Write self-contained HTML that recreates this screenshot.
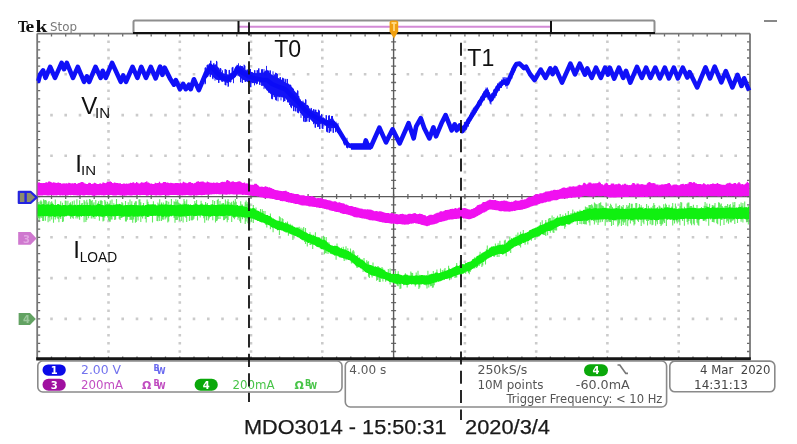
<!DOCTYPE html>
<html><head><meta charset="utf-8"><style>
html,body{margin:0;padding:0;background:#fff;}
body{width:797px;height:444px;overflow:hidden;}
svg{display:block;filter:blur(0.35px);}
.s{font-family:"DejaVu Sans","Liberation Sans",sans-serif;}
.a{font-family:"Liberation Sans",sans-serif;}
</style></head><body>
<svg width="797" height="444" viewBox="0 0 797 444">
<rect width="797" height="444" fill="#fff"/>
<path d="M107.2 40.5h2.6v2.6h-2.6zM107.2 48.6h2.6v2.6h-2.6zM107.2 56.8h2.6v2.6h-2.6zM107.2 64.9h2.6v2.6h-2.6zM107.2 73h2.6v2.6h-2.6zM107.2 81.2h2.6v2.6h-2.6zM107.2 89.4h2.6v2.6h-2.6zM107.2 97.5h2.6v2.6h-2.6zM107.2 105.6h2.6v2.6h-2.6zM107.2 113.8h2.6v2.6h-2.6zM107.2 122h2.6v2.6h-2.6zM107.2 130.1h2.6v2.6h-2.6zM107.2 138.2h2.6v2.6h-2.6zM107.2 146.4h2.6v2.6h-2.6zM107.2 154.5h2.6v2.6h-2.6zM107.2 162.7h2.6v2.6h-2.6zM107.2 170.8h2.6v2.6h-2.6zM107.2 179h2.6v2.6h-2.6zM107.2 187.1h2.6v2.6h-2.6zM107.2 195.3h2.6v2.6h-2.6zM107.2 203.4h2.6v2.6h-2.6zM107.2 211.6h2.6v2.6h-2.6zM107.2 219.7h2.6v2.6h-2.6zM107.2 227.9h2.6v2.6h-2.6zM107.2 236h2.6v2.6h-2.6zM107.2 244.2h2.6v2.6h-2.6zM107.2 252.3h2.6v2.6h-2.6zM107.2 260.5h2.6v2.6h-2.6zM107.2 268.6h2.6v2.6h-2.6zM107.2 276.8h2.6v2.6h-2.6zM107.2 284.9h2.6v2.6h-2.6zM107.2 293.1h2.6v2.6h-2.6zM107.2 301.2h2.6v2.6h-2.6zM107.2 309.4h2.6v2.6h-2.6zM107.2 317.6h2.6v2.6h-2.6zM107.2 325.7h2.6v2.6h-2.6zM107.2 333.9h2.6v2.6h-2.6zM107.2 342h2.6v2.6h-2.6zM107.2 350.2h2.6v2.6h-2.6zM178.5 40.5h2.6v2.6h-2.6zM178.5 48.6h2.6v2.6h-2.6zM178.5 56.8h2.6v2.6h-2.6zM178.5 64.9h2.6v2.6h-2.6zM178.5 73h2.6v2.6h-2.6zM178.5 81.2h2.6v2.6h-2.6zM178.5 89.4h2.6v2.6h-2.6zM178.5 97.5h2.6v2.6h-2.6zM178.5 105.6h2.6v2.6h-2.6zM178.5 113.8h2.6v2.6h-2.6zM178.5 122h2.6v2.6h-2.6zM178.5 130.1h2.6v2.6h-2.6zM178.5 138.2h2.6v2.6h-2.6zM178.5 146.4h2.6v2.6h-2.6zM178.5 154.5h2.6v2.6h-2.6zM178.5 162.7h2.6v2.6h-2.6zM178.5 170.8h2.6v2.6h-2.6zM178.5 179h2.6v2.6h-2.6zM178.5 187.1h2.6v2.6h-2.6zM178.5 195.3h2.6v2.6h-2.6zM178.5 203.4h2.6v2.6h-2.6zM178.5 211.6h2.6v2.6h-2.6zM178.5 219.7h2.6v2.6h-2.6zM178.5 227.9h2.6v2.6h-2.6zM178.5 236h2.6v2.6h-2.6zM178.5 244.2h2.6v2.6h-2.6zM178.5 252.3h2.6v2.6h-2.6zM178.5 260.5h2.6v2.6h-2.6zM178.5 268.6h2.6v2.6h-2.6zM178.5 276.8h2.6v2.6h-2.6zM178.5 284.9h2.6v2.6h-2.6zM178.5 293.1h2.6v2.6h-2.6zM178.5 301.2h2.6v2.6h-2.6zM178.5 309.4h2.6v2.6h-2.6zM178.5 317.6h2.6v2.6h-2.6zM178.5 325.7h2.6v2.6h-2.6zM178.5 333.9h2.6v2.6h-2.6zM178.5 342h2.6v2.6h-2.6zM178.5 350.2h2.6v2.6h-2.6zM249.7 40.5h2.6v2.6h-2.6zM249.7 48.6h2.6v2.6h-2.6zM249.7 56.8h2.6v2.6h-2.6zM249.7 64.9h2.6v2.6h-2.6zM249.7 73h2.6v2.6h-2.6zM249.7 81.2h2.6v2.6h-2.6zM249.7 89.4h2.6v2.6h-2.6zM249.7 97.5h2.6v2.6h-2.6zM249.7 105.6h2.6v2.6h-2.6zM249.7 113.8h2.6v2.6h-2.6zM249.7 122h2.6v2.6h-2.6zM249.7 130.1h2.6v2.6h-2.6zM249.7 138.2h2.6v2.6h-2.6zM249.7 146.4h2.6v2.6h-2.6zM249.7 154.5h2.6v2.6h-2.6zM249.7 162.7h2.6v2.6h-2.6zM249.7 170.8h2.6v2.6h-2.6zM249.7 179h2.6v2.6h-2.6zM249.7 187.1h2.6v2.6h-2.6zM249.7 195.3h2.6v2.6h-2.6zM249.7 203.4h2.6v2.6h-2.6zM249.7 211.6h2.6v2.6h-2.6zM249.7 219.7h2.6v2.6h-2.6zM249.7 227.9h2.6v2.6h-2.6zM249.7 236h2.6v2.6h-2.6zM249.7 244.2h2.6v2.6h-2.6zM249.7 252.3h2.6v2.6h-2.6zM249.7 260.5h2.6v2.6h-2.6zM249.7 268.6h2.6v2.6h-2.6zM249.7 276.8h2.6v2.6h-2.6zM249.7 284.9h2.6v2.6h-2.6zM249.7 293.1h2.6v2.6h-2.6zM249.7 301.2h2.6v2.6h-2.6zM249.7 309.4h2.6v2.6h-2.6zM249.7 317.6h2.6v2.6h-2.6zM249.7 325.7h2.6v2.6h-2.6zM249.7 333.9h2.6v2.6h-2.6zM249.7 342h2.6v2.6h-2.6zM249.7 350.2h2.6v2.6h-2.6zM321 40.5h2.6v2.6h-2.6zM321 48.6h2.6v2.6h-2.6zM321 56.8h2.6v2.6h-2.6zM321 64.9h2.6v2.6h-2.6zM321 73h2.6v2.6h-2.6zM321 81.2h2.6v2.6h-2.6zM321 89.4h2.6v2.6h-2.6zM321 97.5h2.6v2.6h-2.6zM321 105.6h2.6v2.6h-2.6zM321 113.8h2.6v2.6h-2.6zM321 122h2.6v2.6h-2.6zM321 130.1h2.6v2.6h-2.6zM321 138.2h2.6v2.6h-2.6zM321 146.4h2.6v2.6h-2.6zM321 154.5h2.6v2.6h-2.6zM321 162.7h2.6v2.6h-2.6zM321 170.8h2.6v2.6h-2.6zM321 179h2.6v2.6h-2.6zM321 187.1h2.6v2.6h-2.6zM321 195.3h2.6v2.6h-2.6zM321 203.4h2.6v2.6h-2.6zM321 211.6h2.6v2.6h-2.6zM321 219.7h2.6v2.6h-2.6zM321 227.9h2.6v2.6h-2.6zM321 236h2.6v2.6h-2.6zM321 244.2h2.6v2.6h-2.6zM321 252.3h2.6v2.6h-2.6zM321 260.5h2.6v2.6h-2.6zM321 268.6h2.6v2.6h-2.6zM321 276.8h2.6v2.6h-2.6zM321 284.9h2.6v2.6h-2.6zM321 293.1h2.6v2.6h-2.6zM321 301.2h2.6v2.6h-2.6zM321 309.4h2.6v2.6h-2.6zM321 317.6h2.6v2.6h-2.6zM321 325.7h2.6v2.6h-2.6zM321 333.9h2.6v2.6h-2.6zM321 342h2.6v2.6h-2.6zM321 350.2h2.6v2.6h-2.6zM463.6 40.5h2.6v2.6h-2.6zM463.6 48.6h2.6v2.6h-2.6zM463.6 56.8h2.6v2.6h-2.6zM463.6 64.9h2.6v2.6h-2.6zM463.6 73h2.6v2.6h-2.6zM463.6 81.2h2.6v2.6h-2.6zM463.6 89.4h2.6v2.6h-2.6zM463.6 97.5h2.6v2.6h-2.6zM463.6 105.6h2.6v2.6h-2.6zM463.6 113.8h2.6v2.6h-2.6zM463.6 122h2.6v2.6h-2.6zM463.6 130.1h2.6v2.6h-2.6zM463.6 138.2h2.6v2.6h-2.6zM463.6 146.4h2.6v2.6h-2.6zM463.6 154.5h2.6v2.6h-2.6zM463.6 162.7h2.6v2.6h-2.6zM463.6 170.8h2.6v2.6h-2.6zM463.6 179h2.6v2.6h-2.6zM463.6 187.1h2.6v2.6h-2.6zM463.6 195.3h2.6v2.6h-2.6zM463.6 203.4h2.6v2.6h-2.6zM463.6 211.6h2.6v2.6h-2.6zM463.6 219.7h2.6v2.6h-2.6zM463.6 227.9h2.6v2.6h-2.6zM463.6 236h2.6v2.6h-2.6zM463.6 244.2h2.6v2.6h-2.6zM463.6 252.3h2.6v2.6h-2.6zM463.6 260.5h2.6v2.6h-2.6zM463.6 268.6h2.6v2.6h-2.6zM463.6 276.8h2.6v2.6h-2.6zM463.6 284.9h2.6v2.6h-2.6zM463.6 293.1h2.6v2.6h-2.6zM463.6 301.2h2.6v2.6h-2.6zM463.6 309.4h2.6v2.6h-2.6zM463.6 317.6h2.6v2.6h-2.6zM463.6 325.7h2.6v2.6h-2.6zM463.6 333.9h2.6v2.6h-2.6zM463.6 342h2.6v2.6h-2.6zM463.6 350.2h2.6v2.6h-2.6zM534.9 40.5h2.6v2.6h-2.6zM534.9 48.6h2.6v2.6h-2.6zM534.9 56.8h2.6v2.6h-2.6zM534.9 64.9h2.6v2.6h-2.6zM534.9 73h2.6v2.6h-2.6zM534.9 81.2h2.6v2.6h-2.6zM534.9 89.4h2.6v2.6h-2.6zM534.9 97.5h2.6v2.6h-2.6zM534.9 105.6h2.6v2.6h-2.6zM534.9 113.8h2.6v2.6h-2.6zM534.9 122h2.6v2.6h-2.6zM534.9 130.1h2.6v2.6h-2.6zM534.9 138.2h2.6v2.6h-2.6zM534.9 146.4h2.6v2.6h-2.6zM534.9 154.5h2.6v2.6h-2.6zM534.9 162.7h2.6v2.6h-2.6zM534.9 170.8h2.6v2.6h-2.6zM534.9 179h2.6v2.6h-2.6zM534.9 187.1h2.6v2.6h-2.6zM534.9 195.3h2.6v2.6h-2.6zM534.9 203.4h2.6v2.6h-2.6zM534.9 211.6h2.6v2.6h-2.6zM534.9 219.7h2.6v2.6h-2.6zM534.9 227.9h2.6v2.6h-2.6zM534.9 236h2.6v2.6h-2.6zM534.9 244.2h2.6v2.6h-2.6zM534.9 252.3h2.6v2.6h-2.6zM534.9 260.5h2.6v2.6h-2.6zM534.9 268.6h2.6v2.6h-2.6zM534.9 276.8h2.6v2.6h-2.6zM534.9 284.9h2.6v2.6h-2.6zM534.9 293.1h2.6v2.6h-2.6zM534.9 301.2h2.6v2.6h-2.6zM534.9 309.4h2.6v2.6h-2.6zM534.9 317.6h2.6v2.6h-2.6zM534.9 325.7h2.6v2.6h-2.6zM534.9 333.9h2.6v2.6h-2.6zM534.9 342h2.6v2.6h-2.6zM534.9 350.2h2.6v2.6h-2.6zM606.1 40.5h2.6v2.6h-2.6zM606.1 48.6h2.6v2.6h-2.6zM606.1 56.8h2.6v2.6h-2.6zM606.1 64.9h2.6v2.6h-2.6zM606.1 73h2.6v2.6h-2.6zM606.1 81.2h2.6v2.6h-2.6zM606.1 89.4h2.6v2.6h-2.6zM606.1 97.5h2.6v2.6h-2.6zM606.1 105.6h2.6v2.6h-2.6zM606.1 113.8h2.6v2.6h-2.6zM606.1 122h2.6v2.6h-2.6zM606.1 130.1h2.6v2.6h-2.6zM606.1 138.2h2.6v2.6h-2.6zM606.1 146.4h2.6v2.6h-2.6zM606.1 154.5h2.6v2.6h-2.6zM606.1 162.7h2.6v2.6h-2.6zM606.1 170.8h2.6v2.6h-2.6zM606.1 179h2.6v2.6h-2.6zM606.1 187.1h2.6v2.6h-2.6zM606.1 195.3h2.6v2.6h-2.6zM606.1 203.4h2.6v2.6h-2.6zM606.1 211.6h2.6v2.6h-2.6zM606.1 219.7h2.6v2.6h-2.6zM606.1 227.9h2.6v2.6h-2.6zM606.1 236h2.6v2.6h-2.6zM606.1 244.2h2.6v2.6h-2.6zM606.1 252.3h2.6v2.6h-2.6zM606.1 260.5h2.6v2.6h-2.6zM606.1 268.6h2.6v2.6h-2.6zM606.1 276.8h2.6v2.6h-2.6zM606.1 284.9h2.6v2.6h-2.6zM606.1 293.1h2.6v2.6h-2.6zM606.1 301.2h2.6v2.6h-2.6zM606.1 309.4h2.6v2.6h-2.6zM606.1 317.6h2.6v2.6h-2.6zM606.1 325.7h2.6v2.6h-2.6zM606.1 333.9h2.6v2.6h-2.6zM606.1 342h2.6v2.6h-2.6zM606.1 350.2h2.6v2.6h-2.6zM677.4 40.5h2.6v2.6h-2.6zM677.4 48.6h2.6v2.6h-2.6zM677.4 56.8h2.6v2.6h-2.6zM677.4 64.9h2.6v2.6h-2.6zM677.4 73h2.6v2.6h-2.6zM677.4 81.2h2.6v2.6h-2.6zM677.4 89.4h2.6v2.6h-2.6zM677.4 97.5h2.6v2.6h-2.6zM677.4 105.6h2.6v2.6h-2.6zM677.4 113.8h2.6v2.6h-2.6zM677.4 122h2.6v2.6h-2.6zM677.4 130.1h2.6v2.6h-2.6zM677.4 138.2h2.6v2.6h-2.6zM677.4 146.4h2.6v2.6h-2.6zM677.4 154.5h2.6v2.6h-2.6zM677.4 162.7h2.6v2.6h-2.6zM677.4 170.8h2.6v2.6h-2.6zM677.4 179h2.6v2.6h-2.6zM677.4 187.1h2.6v2.6h-2.6zM677.4 195.3h2.6v2.6h-2.6zM677.4 203.4h2.6v2.6h-2.6zM677.4 211.6h2.6v2.6h-2.6zM677.4 219.7h2.6v2.6h-2.6zM677.4 227.9h2.6v2.6h-2.6zM677.4 236h2.6v2.6h-2.6zM677.4 244.2h2.6v2.6h-2.6zM677.4 252.3h2.6v2.6h-2.6zM677.4 260.5h2.6v2.6h-2.6zM677.4 268.6h2.6v2.6h-2.6zM677.4 276.8h2.6v2.6h-2.6zM677.4 284.9h2.6v2.6h-2.6zM677.4 293.1h2.6v2.6h-2.6zM677.4 301.2h2.6v2.6h-2.6zM677.4 309.4h2.6v2.6h-2.6zM677.4 317.6h2.6v2.6h-2.6zM677.4 325.7h2.6v2.6h-2.6zM677.4 333.9h2.6v2.6h-2.6zM677.4 342h2.6v2.6h-2.6zM677.4 350.2h2.6v2.6h-2.6zM50.2 73h2.6v2.6h-2.6zM64.4 73h2.6v2.6h-2.6zM78.7 73h2.6v2.6h-2.6zM92.9 73h2.6v2.6h-2.6zM107.2 73h2.6v2.6h-2.6zM121.4 73h2.6v2.6h-2.6zM135.7 73h2.6v2.6h-2.6zM149.9 73h2.6v2.6h-2.6zM164.2 73h2.6v2.6h-2.6zM178.5 73h2.6v2.6h-2.6zM192.7 73h2.6v2.6h-2.6zM207 73h2.6v2.6h-2.6zM221.2 73h2.6v2.6h-2.6zM235.5 73h2.6v2.6h-2.6zM249.7 73h2.6v2.6h-2.6zM264 73h2.6v2.6h-2.6zM278.3 73h2.6v2.6h-2.6zM292.5 73h2.6v2.6h-2.6zM306.8 73h2.6v2.6h-2.6zM321 73h2.6v2.6h-2.6zM335.3 73h2.6v2.6h-2.6zM349.5 73h2.6v2.6h-2.6zM363.8 73h2.6v2.6h-2.6zM378 73h2.6v2.6h-2.6zM392.3 73h2.6v2.6h-2.6zM406.6 73h2.6v2.6h-2.6zM420.8 73h2.6v2.6h-2.6zM435.1 73h2.6v2.6h-2.6zM449.3 73h2.6v2.6h-2.6zM463.6 73h2.6v2.6h-2.6zM477.8 73h2.6v2.6h-2.6zM492.1 73h2.6v2.6h-2.6zM506.3 73h2.6v2.6h-2.6zM520.6 73h2.6v2.6h-2.6zM534.9 73h2.6v2.6h-2.6zM549.1 73h2.6v2.6h-2.6zM563.4 73h2.6v2.6h-2.6zM577.6 73h2.6v2.6h-2.6zM591.9 73h2.6v2.6h-2.6zM606.1 73h2.6v2.6h-2.6zM620.4 73h2.6v2.6h-2.6zM634.7 73h2.6v2.6h-2.6zM648.9 73h2.6v2.6h-2.6zM663.2 73h2.6v2.6h-2.6zM677.4 73h2.6v2.6h-2.6zM691.7 73h2.6v2.6h-2.6zM705.9 73h2.6v2.6h-2.6zM720.2 73h2.6v2.6h-2.6zM734.4 73h2.6v2.6h-2.6zM50.2 113.8h2.6v2.6h-2.6zM64.4 113.8h2.6v2.6h-2.6zM78.7 113.8h2.6v2.6h-2.6zM92.9 113.8h2.6v2.6h-2.6zM107.2 113.8h2.6v2.6h-2.6zM121.4 113.8h2.6v2.6h-2.6zM135.7 113.8h2.6v2.6h-2.6zM149.9 113.8h2.6v2.6h-2.6zM164.2 113.8h2.6v2.6h-2.6zM178.5 113.8h2.6v2.6h-2.6zM192.7 113.8h2.6v2.6h-2.6zM207 113.8h2.6v2.6h-2.6zM221.2 113.8h2.6v2.6h-2.6zM235.5 113.8h2.6v2.6h-2.6zM249.7 113.8h2.6v2.6h-2.6zM264 113.8h2.6v2.6h-2.6zM278.3 113.8h2.6v2.6h-2.6zM292.5 113.8h2.6v2.6h-2.6zM306.8 113.8h2.6v2.6h-2.6zM321 113.8h2.6v2.6h-2.6zM335.3 113.8h2.6v2.6h-2.6zM349.5 113.8h2.6v2.6h-2.6zM363.8 113.8h2.6v2.6h-2.6zM378 113.8h2.6v2.6h-2.6zM392.3 113.8h2.6v2.6h-2.6zM406.6 113.8h2.6v2.6h-2.6zM420.8 113.8h2.6v2.6h-2.6zM435.1 113.8h2.6v2.6h-2.6zM449.3 113.8h2.6v2.6h-2.6zM463.6 113.8h2.6v2.6h-2.6zM477.8 113.8h2.6v2.6h-2.6zM492.1 113.8h2.6v2.6h-2.6zM506.3 113.8h2.6v2.6h-2.6zM520.6 113.8h2.6v2.6h-2.6zM534.9 113.8h2.6v2.6h-2.6zM549.1 113.8h2.6v2.6h-2.6zM563.4 113.8h2.6v2.6h-2.6zM577.6 113.8h2.6v2.6h-2.6zM591.9 113.8h2.6v2.6h-2.6zM606.1 113.8h2.6v2.6h-2.6zM620.4 113.8h2.6v2.6h-2.6zM634.7 113.8h2.6v2.6h-2.6zM648.9 113.8h2.6v2.6h-2.6zM663.2 113.8h2.6v2.6h-2.6zM677.4 113.8h2.6v2.6h-2.6zM691.7 113.8h2.6v2.6h-2.6zM705.9 113.8h2.6v2.6h-2.6zM720.2 113.8h2.6v2.6h-2.6zM734.4 113.8h2.6v2.6h-2.6zM50.2 154.5h2.6v2.6h-2.6zM64.4 154.5h2.6v2.6h-2.6zM78.7 154.5h2.6v2.6h-2.6zM92.9 154.5h2.6v2.6h-2.6zM107.2 154.5h2.6v2.6h-2.6zM121.4 154.5h2.6v2.6h-2.6zM135.7 154.5h2.6v2.6h-2.6zM149.9 154.5h2.6v2.6h-2.6zM164.2 154.5h2.6v2.6h-2.6zM178.5 154.5h2.6v2.6h-2.6zM192.7 154.5h2.6v2.6h-2.6zM207 154.5h2.6v2.6h-2.6zM221.2 154.5h2.6v2.6h-2.6zM235.5 154.5h2.6v2.6h-2.6zM249.7 154.5h2.6v2.6h-2.6zM264 154.5h2.6v2.6h-2.6zM278.3 154.5h2.6v2.6h-2.6zM292.5 154.5h2.6v2.6h-2.6zM306.8 154.5h2.6v2.6h-2.6zM321 154.5h2.6v2.6h-2.6zM335.3 154.5h2.6v2.6h-2.6zM349.5 154.5h2.6v2.6h-2.6zM363.8 154.5h2.6v2.6h-2.6zM378 154.5h2.6v2.6h-2.6zM392.3 154.5h2.6v2.6h-2.6zM406.6 154.5h2.6v2.6h-2.6zM420.8 154.5h2.6v2.6h-2.6zM435.1 154.5h2.6v2.6h-2.6zM449.3 154.5h2.6v2.6h-2.6zM463.6 154.5h2.6v2.6h-2.6zM477.8 154.5h2.6v2.6h-2.6zM492.1 154.5h2.6v2.6h-2.6zM506.3 154.5h2.6v2.6h-2.6zM520.6 154.5h2.6v2.6h-2.6zM534.9 154.5h2.6v2.6h-2.6zM549.1 154.5h2.6v2.6h-2.6zM563.4 154.5h2.6v2.6h-2.6zM577.6 154.5h2.6v2.6h-2.6zM591.9 154.5h2.6v2.6h-2.6zM606.1 154.5h2.6v2.6h-2.6zM620.4 154.5h2.6v2.6h-2.6zM634.7 154.5h2.6v2.6h-2.6zM648.9 154.5h2.6v2.6h-2.6zM663.2 154.5h2.6v2.6h-2.6zM677.4 154.5h2.6v2.6h-2.6zM691.7 154.5h2.6v2.6h-2.6zM705.9 154.5h2.6v2.6h-2.6zM720.2 154.5h2.6v2.6h-2.6zM734.4 154.5h2.6v2.6h-2.6zM50.2 236h2.6v2.6h-2.6zM64.4 236h2.6v2.6h-2.6zM78.7 236h2.6v2.6h-2.6zM92.9 236h2.6v2.6h-2.6zM107.2 236h2.6v2.6h-2.6zM121.4 236h2.6v2.6h-2.6zM135.7 236h2.6v2.6h-2.6zM149.9 236h2.6v2.6h-2.6zM164.2 236h2.6v2.6h-2.6zM178.5 236h2.6v2.6h-2.6zM192.7 236h2.6v2.6h-2.6zM207 236h2.6v2.6h-2.6zM221.2 236h2.6v2.6h-2.6zM235.5 236h2.6v2.6h-2.6zM249.7 236h2.6v2.6h-2.6zM264 236h2.6v2.6h-2.6zM278.3 236h2.6v2.6h-2.6zM292.5 236h2.6v2.6h-2.6zM306.8 236h2.6v2.6h-2.6zM321 236h2.6v2.6h-2.6zM335.3 236h2.6v2.6h-2.6zM349.5 236h2.6v2.6h-2.6zM363.8 236h2.6v2.6h-2.6zM378 236h2.6v2.6h-2.6zM392.3 236h2.6v2.6h-2.6zM406.6 236h2.6v2.6h-2.6zM420.8 236h2.6v2.6h-2.6zM435.1 236h2.6v2.6h-2.6zM449.3 236h2.6v2.6h-2.6zM463.6 236h2.6v2.6h-2.6zM477.8 236h2.6v2.6h-2.6zM492.1 236h2.6v2.6h-2.6zM506.3 236h2.6v2.6h-2.6zM520.6 236h2.6v2.6h-2.6zM534.9 236h2.6v2.6h-2.6zM549.1 236h2.6v2.6h-2.6zM563.4 236h2.6v2.6h-2.6zM577.6 236h2.6v2.6h-2.6zM591.9 236h2.6v2.6h-2.6zM606.1 236h2.6v2.6h-2.6zM620.4 236h2.6v2.6h-2.6zM634.7 236h2.6v2.6h-2.6zM648.9 236h2.6v2.6h-2.6zM663.2 236h2.6v2.6h-2.6zM677.4 236h2.6v2.6h-2.6zM691.7 236h2.6v2.6h-2.6zM705.9 236h2.6v2.6h-2.6zM720.2 236h2.6v2.6h-2.6zM734.4 236h2.6v2.6h-2.6zM50.2 276.8h2.6v2.6h-2.6zM64.4 276.8h2.6v2.6h-2.6zM78.7 276.8h2.6v2.6h-2.6zM92.9 276.8h2.6v2.6h-2.6zM107.2 276.8h2.6v2.6h-2.6zM121.4 276.8h2.6v2.6h-2.6zM135.7 276.8h2.6v2.6h-2.6zM149.9 276.8h2.6v2.6h-2.6zM164.2 276.8h2.6v2.6h-2.6zM178.5 276.8h2.6v2.6h-2.6zM192.7 276.8h2.6v2.6h-2.6zM207 276.8h2.6v2.6h-2.6zM221.2 276.8h2.6v2.6h-2.6zM235.5 276.8h2.6v2.6h-2.6zM249.7 276.8h2.6v2.6h-2.6zM264 276.8h2.6v2.6h-2.6zM278.3 276.8h2.6v2.6h-2.6zM292.5 276.8h2.6v2.6h-2.6zM306.8 276.8h2.6v2.6h-2.6zM321 276.8h2.6v2.6h-2.6zM335.3 276.8h2.6v2.6h-2.6zM349.5 276.8h2.6v2.6h-2.6zM363.8 276.8h2.6v2.6h-2.6zM378 276.8h2.6v2.6h-2.6zM392.3 276.8h2.6v2.6h-2.6zM406.6 276.8h2.6v2.6h-2.6zM420.8 276.8h2.6v2.6h-2.6zM435.1 276.8h2.6v2.6h-2.6zM449.3 276.8h2.6v2.6h-2.6zM463.6 276.8h2.6v2.6h-2.6zM477.8 276.8h2.6v2.6h-2.6zM492.1 276.8h2.6v2.6h-2.6zM506.3 276.8h2.6v2.6h-2.6zM520.6 276.8h2.6v2.6h-2.6zM534.9 276.8h2.6v2.6h-2.6zM549.1 276.8h2.6v2.6h-2.6zM563.4 276.8h2.6v2.6h-2.6zM577.6 276.8h2.6v2.6h-2.6zM591.9 276.8h2.6v2.6h-2.6zM606.1 276.8h2.6v2.6h-2.6zM620.4 276.8h2.6v2.6h-2.6zM634.7 276.8h2.6v2.6h-2.6zM648.9 276.8h2.6v2.6h-2.6zM663.2 276.8h2.6v2.6h-2.6zM677.4 276.8h2.6v2.6h-2.6zM691.7 276.8h2.6v2.6h-2.6zM705.9 276.8h2.6v2.6h-2.6zM720.2 276.8h2.6v2.6h-2.6zM734.4 276.8h2.6v2.6h-2.6zM50.2 317.6h2.6v2.6h-2.6zM64.4 317.6h2.6v2.6h-2.6zM78.7 317.6h2.6v2.6h-2.6zM92.9 317.6h2.6v2.6h-2.6zM107.2 317.6h2.6v2.6h-2.6zM121.4 317.6h2.6v2.6h-2.6zM135.7 317.6h2.6v2.6h-2.6zM149.9 317.6h2.6v2.6h-2.6zM164.2 317.6h2.6v2.6h-2.6zM178.5 317.6h2.6v2.6h-2.6zM192.7 317.6h2.6v2.6h-2.6zM207 317.6h2.6v2.6h-2.6zM221.2 317.6h2.6v2.6h-2.6zM235.5 317.6h2.6v2.6h-2.6zM249.7 317.6h2.6v2.6h-2.6zM264 317.6h2.6v2.6h-2.6zM278.3 317.6h2.6v2.6h-2.6zM292.5 317.6h2.6v2.6h-2.6zM306.8 317.6h2.6v2.6h-2.6zM321 317.6h2.6v2.6h-2.6zM335.3 317.6h2.6v2.6h-2.6zM349.5 317.6h2.6v2.6h-2.6zM363.8 317.6h2.6v2.6h-2.6zM378 317.6h2.6v2.6h-2.6zM392.3 317.6h2.6v2.6h-2.6zM406.6 317.6h2.6v2.6h-2.6zM420.8 317.6h2.6v2.6h-2.6zM435.1 317.6h2.6v2.6h-2.6zM449.3 317.6h2.6v2.6h-2.6zM463.6 317.6h2.6v2.6h-2.6zM477.8 317.6h2.6v2.6h-2.6zM492.1 317.6h2.6v2.6h-2.6zM506.3 317.6h2.6v2.6h-2.6zM520.6 317.6h2.6v2.6h-2.6zM534.9 317.6h2.6v2.6h-2.6zM549.1 317.6h2.6v2.6h-2.6zM563.4 317.6h2.6v2.6h-2.6zM577.6 317.6h2.6v2.6h-2.6zM591.9 317.6h2.6v2.6h-2.6zM606.1 317.6h2.6v2.6h-2.6zM620.4 317.6h2.6v2.6h-2.6zM634.7 317.6h2.6v2.6h-2.6zM648.9 317.6h2.6v2.6h-2.6zM663.2 317.6h2.6v2.6h-2.6zM677.4 317.6h2.6v2.6h-2.6zM691.7 317.6h2.6v2.6h-2.6zM705.9 317.6h2.6v2.6h-2.6zM720.2 317.6h2.6v2.6h-2.6zM734.4 317.6h2.6v2.6h-2.6z" fill="#cbcbcb"/>
<path d="M391.1 41.8h5M391.1 49.9h5M391.1 58h5M391.1 66.2h5M391.1 74.3h5M391.1 82.5h5M391.1 90.7h5M391.1 98.8h5M391.1 106.9h5M391.1 115.1h5M391.1 123.2h5M391.1 131.4h5M391.1 139.6h5M391.1 147.7h5M391.1 155.8h5M391.1 164h5M391.1 172.2h5M391.1 180.3h5M391.1 188.4h5M391.1 196.6h5M391.1 204.8h5M391.1 212.9h5M391.1 221h5M391.1 229.2h5M391.1 237.3h5M391.1 245.5h5M391.1 253.7h5M391.1 261.8h5M391.1 269.9h5M391.1 278.1h5M391.1 286.2h5M391.1 294.4h5M391.1 302.6h5M391.1 310.7h5M391.1 318.9h5M391.1 327h5M391.1 335.2h5M391.1 343.3h5M391.1 351.5h5M51.5 194.1v5M65.7 194.1v5M80 194.1v5M94.2 194.1v5M108.5 194.1v5M122.7 194.1v5M137 194.1v5M151.2 194.1v5M165.5 194.1v5M179.8 194.1v5M194 194.1v5M208.3 194.1v5M222.5 194.1v5M236.8 194.1v5M251 194.1v5M265.3 194.1v5M279.6 194.1v5M293.8 194.1v5M308.1 194.1v5M322.3 194.1v5M336.6 194.1v5M350.8 194.1v5M365.1 194.1v5M379.3 194.1v5M393.6 194.1v5M407.9 194.1v5M422.1 194.1v5M436.4 194.1v5M450.6 194.1v5M464.9 194.1v5M479.1 194.1v5M493.4 194.1v5M507.6 194.1v5M521.9 194.1v5M536.2 194.1v5M550.4 194.1v5M564.7 194.1v5M578.9 194.1v5M593.2 194.1v5M607.4 194.1v5M621.7 194.1v5M636 194.1v5M650.2 194.1v5M664.5 194.1v5M678.7 194.1v5M693 194.1v5M707.2 194.1v5M721.5 194.1v5M735.7 194.1v5M37.2 41.8h3M750 41.8h-3M37.2 49.9h3M750 49.9h-3M37.2 58h3M750 58h-3M37.2 66.2h3M750 66.2h-3M37.2 74.3h3M750 74.3h-3M37.2 82.5h3M750 82.5h-3M37.2 90.7h3M750 90.7h-3M37.2 98.8h3M750 98.8h-3M37.2 106.9h3M750 106.9h-3M37.2 115.1h3M750 115.1h-3M37.2 123.2h3M750 123.2h-3M37.2 131.4h3M750 131.4h-3M37.2 139.6h3M750 139.6h-3M37.2 147.7h3M750 147.7h-3M37.2 155.8h3M750 155.8h-3M37.2 164h3M750 164h-3M37.2 172.2h3M750 172.2h-3M37.2 180.3h3M750 180.3h-3M37.2 188.4h3M750 188.4h-3M37.2 196.6h3M750 196.6h-3M37.2 204.8h3M750 204.8h-3M37.2 212.9h3M750 212.9h-3M37.2 221h3M750 221h-3M37.2 229.2h3M750 229.2h-3M37.2 237.3h3M750 237.3h-3M37.2 245.5h3M750 245.5h-3M37.2 253.7h3M750 253.7h-3M37.2 261.8h3M750 261.8h-3M37.2 269.9h3M750 269.9h-3M37.2 278.1h3M750 278.1h-3M37.2 286.2h3M750 286.2h-3M37.2 294.4h3M750 294.4h-3M37.2 302.6h3M750 302.6h-3M37.2 310.7h3M750 310.7h-3M37.2 318.9h3M750 318.9h-3M37.2 327h3M750 327h-3M37.2 335.2h3M750 335.2h-3M37.2 343.3h3M750 343.3h-3M37.2 351.5h3M750 351.5h-3M51.5 33.6v3M51.5 358.1v-1.5M65.7 33.6v3M65.7 358.1v-1.5M80 33.6v3M80 358.1v-1.5M94.2 33.6v3M94.2 358.1v-1.5M108.5 33.6v3M108.5 358.1v-1.5M122.7 33.6v3M122.7 358.1v-1.5M137 33.6v3M137 358.1v-1.5M151.2 33.6v3M151.2 358.1v-1.5M165.5 33.6v3M165.5 358.1v-1.5M179.8 33.6v3M179.8 358.1v-1.5M194 33.6v3M194 358.1v-1.5M208.3 33.6v3M208.3 358.1v-1.5M222.5 33.6v3M222.5 358.1v-1.5M236.8 33.6v3M236.8 358.1v-1.5M251 33.6v3M251 358.1v-1.5M265.3 33.6v3M265.3 358.1v-1.5M279.6 33.6v3M279.6 358.1v-1.5M293.8 33.6v3M293.8 358.1v-1.5M308.1 33.6v3M308.1 358.1v-1.5M322.3 33.6v3M322.3 358.1v-1.5M336.6 33.6v3M336.6 358.1v-1.5M350.8 33.6v3M350.8 358.1v-1.5M365.1 33.6v3M365.1 358.1v-1.5M379.3 33.6v3M379.3 358.1v-1.5M393.6 33.6v3M393.6 358.1v-1.5M407.9 33.6v3M407.9 358.1v-1.5M422.1 33.6v3M422.1 358.1v-1.5M436.4 33.6v3M436.4 358.1v-1.5M450.6 33.6v3M450.6 358.1v-1.5M464.9 33.6v3M464.9 358.1v-1.5M479.1 33.6v3M479.1 358.1v-1.5M493.4 33.6v3M493.4 358.1v-1.5M507.6 33.6v3M507.6 358.1v-1.5M521.9 33.6v3M521.9 358.1v-1.5M536.2 33.6v3M536.2 358.1v-1.5M550.4 33.6v3M550.4 358.1v-1.5M564.7 33.6v3M564.7 358.1v-1.5M578.9 33.6v3M578.9 358.1v-1.5M593.2 33.6v3M593.2 358.1v-1.5M607.4 33.6v3M607.4 358.1v-1.5M621.7 33.6v3M621.7 358.1v-1.5M636 33.6v3M636 358.1v-1.5M650.2 33.6v3M650.2 358.1v-1.5M664.5 33.6v3M664.5 358.1v-1.5M678.7 33.6v3M678.7 358.1v-1.5M693 33.6v3M693 358.1v-1.5M707.2 33.6v3M707.2 358.1v-1.5M721.5 33.6v3M721.5 358.1v-1.5M735.7 33.6v3M735.7 358.1v-1.5" stroke="#6a6a6a" stroke-width="1.3" fill="none"/>
<path d="M393.6 33.6V359.6 M37.2 196.6H750" stroke="#5a5a5a" stroke-width="1.4" fill="none"/>
<path d="M37.2 33.6V359.6 M750 33.6V359.6 M37.2 33.6H750" stroke="#777" stroke-width="1.8" fill="none"/>
<path d="M36.2 358.9H750.8" stroke="#151515" stroke-width="3.2" fill="none"/>
<path d="M37.5 81 L38.4 81 L40 74.7 L43.1 70.4 L45.5 77.9 L50.2 66.8 L55 77.9 L61.6 62.9 L64 69.2 L66.8 62.9 L73 77.9 L77.8 66.8 L84.1 81.8 L86.9 76.3 L89.2 81.8 L95.5 66.8 L100.7 77.9 L102.7 70.8 L105.8 77.9 L112.1 62.9 L120.8 81.8 L123.2 75.5 L126 81.8 L132.6 66.8 L137.4 77.9 L141.3 66.8 L146 77.9 L150.8 66.8 L155.6 78.4 L160.1 66.7 L162.4 74.8 L164.6 67.6 L170 78.4 L174 84.7 L175.9 80.2 L180 89.2 L183.1 83.8 L185.8 89.2 L188.9 84.7 L190.7 89.2 L193.9 79.3 L198.8 90.1 L206 73 L210.6 66 L216 72 L222 77.5 L228 79 L234 75 L237 69 L243 73 L249 76.5 L255 78.4 L262 79.7 L267 80 L272 84 L279 87 L285 89 L292 96 L299 103 L305 110 L310 114 L317 118 L322 120.4 L327 123.5 L333 123 L336 125.8 L340 132.5 L345 140.7 L348 145 L351 146 L364.3 146 L365.8 140.4 L368.3 146.5 L370.8 147 L379.4 127.7 L386 142.4 L392.6 129.3 L399.7 143.4 L408.6 123.2 L413.7 138.4 L416.2 126.3 L420.8 118.2 L424.3 128.3 L429.4 138.4 L433.4 127.3 L436 136.4 L442 122.2 L445.6 115.1 L451.7 130.3 L454.7 124.3 L456.7 130.3 L459.8 125.3 L462.2 131.2 L469.4 119.5 L478.4 105 L486.5 91.5 L491 99.6 L498.2 87 L503.6 81.6 L507.2 83.4 L514.5 67.2 L516.5 64 L519.6 63.6 L524 68 L526 66.6 L530 74 L534.6 80 L540.7 69.6 L545.5 77.9 L550.3 68.4 L552.6 74 L555.4 68 L562 82.6 L570.4 63.7 L575 74.3 L579.8 63.7 L585 74.7 L587.3 68.4 L591.7 77.9 L596 67.6 L600.8 77.9 L605.1 67.6 L607.9 74.7 L609.8 67.6 L614.2 78.7 L618.9 67.6 L623.2 77.9 L626 70.8 L630.3 82.6 L637 66.8 L641.8 77.9 L646.1 67.6 L650.4 77.9 L655.3 67.6 L659.9 78.4 L664.8 67.6 L668.9 78.4 L673.8 67.6 L677.9 78.4 L682.8 67.6 L687.3 77.5 L689.6 72.1 L697.2 87.4 L705.5 67.4 L710 78.3 L714.7 66.7 L721.3 82.4 L725.8 71.2 L732.4 87.4 L737.5 74.8 L741.5 85.9 L744.1 78.3 L749.1 90.5" stroke="#1010f8" stroke-width="4.6" fill="none" stroke-linejoin="round"/>
<path d="M205 67.8V84.3M205.5 67.3V83.7M206 70.2V78.4M206.5 69.8V77.8M207 65.1V77.2M207.5 64.6V77.1M208 68.2V76.5M208.5 67.6V75.4M209 64V74.7M209.5 63.4V74M210 65.9V76.7M210.5 60.8V77.1M211 60.7V74.3M211.5 65.5V74.8M212 65.4V75.4M212.5 65.3V78.6M213 65.2V79.2M213.5 63.4V77.1M214 63.3V77.7M214.5 64.8V78.1M215 64.7V80.7M215.5 64.6V79M216 64.5V79.4M216.5 60.9V79.6M217 61.6V80.1M217.5 66.5V79.9M218 67.2V79.9M218.5 67.9V82.9M219 67.9V82.9M219.5 69.3V80M220 70V80.1M220.5 68V80.1M221 68.7V80.4M221.5 72.1V81.4M222 72.9V81.7M222.5 70.3V81.8M223 73.4V81.1M223.5 73.6V81.3M224 73.7V81.4M224.5 73.7V81.7M225 69.1V85M225.5 69.2V85.2M226 74V85.4M226.5 69.8V82.5M227 74.4V82.7M227.5 74.5V82.9M228 74.7V86.8M228.5 74.5V86.4M229 70.1V82.3M229.5 69.9V81.9M230 73.6V81.6M230.5 73.3V82.5M231 72.9V82M231.5 72.6V80.2M232 67.6V79.7M232.5 67.3V79.2M233 66.9V78.8M233.5 71.1V83.2M234 71V78.3M234.5 70V77.7M235 68.3V77.4M235.5 67.3V76.8M236 66.3V76.1M236.5 65.9V75.2M237 64.8V74.2M237.5 65.1V74.6M238 65.4V76.2M238.5 63.3V75.5M239 66.1V76M239.5 66.4V76.5M240 65.5V77M240.5 65.6V82M241 66.9V82.5M241.5 66V78.4M242 66.1V78.8M242.5 66.2V83M243 67.4V79.7M243.5 67.7V79.9M244 64.6V80.1M244.5 65.2V80.3M245 65.8V81.8M245.5 69.8V82M246 70.4V81M246.5 70.5V81.3M247 69.5V81.5M247.5 69.6V81.8M248 70.9V82.1M248.5 71V82.2M249 71.4V82.2M249.5 71.5V82.3M250 68.9V82.3M250.5 69V87.2M251 71.8V87.2M251.5 72V82.4M252 72V82.5M252.5 72.3V83M253 72.8V83.1M253.5 72.9V82.9M254 73V83.1M254.5 70.2V85.4M255 70.3V83.4M255.5 73.2V83M256 73.2V82.6M256.5 73.2V84.4M257 70.2V84M257.5 70.2V83.6M258 73.3V80.9M258.5 68.5V81.2M259 68.3V81.5M259.5 72.8V84.7M260 72.8V85M260.5 72.9V82.4M261 72.9V82.7M261.5 69.3V85.9M262 69.3V83.3M262.5 69.2V85.9M263 72.7V85M263.5 72.5V85.9M264 69.1V89.1M264.5 71.7V87.3M265 71.2V87.9M265.5 70.8V88.4M266 70.4V89M266.5 65.9V89.8M267 69.9V90.4M267.5 70.6V90.7M268 70.1V91.2M268.5 70.9V92.4M269 71.3V92.9M269.5 72.9V92.7M270 70.2V93.2M270.5 70.6V93.7M271 74.2V94.2M271.5 74.6V98.7M272 75V99.2M272.5 75.2V99.2M273 71.3V95.2M273.5 75.7V95.2M274 74.3V97.1M274.5 74.6V97.1M275 76.5V95.3M275.5 72.7V99.9M276 73V100.3M276.5 73.2V100.6M277 77.5V96.6M277.5 73.7V96.7M278 78V101.3M278.5 78.2V96.7M279 78.4V96.7M279.5 78.7V97.3M280 77V96.7M280.5 77.2V96.8M281 79.5V100.4M281.5 79.8V97M282 80V97.2M282.5 77.7V97.3M283 77.9V97.4M283.5 78.4V101.9M284 81.5V97.6M284.5 82V101.1M285 78.7V101.1M285.5 79.3V98.2M286 83.1V98.8M286.5 83.2V99.4M287 78.9V99.9M287.5 79V102.2M288 83.4V102.4M288.5 83.9V102.5M289 84.4V100.9M289.5 84.9V105M290 84.4V101.9M290.5 84.9V106.6M291 85.4V107.4M291.5 86.8V108.2M292 87.2V105.1M292.5 88V105.7M293 88.2V106.3M293.5 89V111.1M294 90.4V111.2M294.5 91.1V107.2M295 91.7V107.3M295.5 92.4V111.3M296 92.4V111.5M296.5 93.1V107.9M297 94.4V108.3M297.5 90.3V112.6M298 90.8V112.9M298.5 95.8V113.3M299 96.3V109.7M299.5 98.3V111.1M300 99.3V112.4M300.5 99.6V113M301 100.9V117.9M301.5 101.2V114.1M302 101.5V114.7M302.5 101.8V115.4M303 100.6V116M303.5 102.3V121.3M304 102.6V122M304.5 102.9V118M305 103.2V122.1M305.5 99.2V121.9M306 99.7V118.4M306.5 104.9V121.6M307 105.5V121.5M307.5 104.9V118M308 105.5V117.9M308.5 106.1V117.8M309 107.8V121.7M309.5 108.5V122M310 109.2V118.7M310.5 109.6V119.3M311 107.9V120M311.5 108.2V120.4M312 110.5V121M312.5 110.7V121.5M313 110.9V122M313.5 109.1V124.2M314 109.4V123M314.5 111.6V123.5M315 109.7V127.6M315.5 109.8V127.7M316 109.8V124.1M316.5 112V124.2M317 112V124.2M317.5 112.4V126.9M318 112.8V126.9M318.5 109.6V126.8M319 110.2V124.1M319.5 110.8V129.1M320 115.2V129M320.5 115.8V123.9M321 116.5V123.8M321.5 114.1V123.6M322 114.7V128.4M322.5 117.9V128.8M323 117.3V129M323.5 117.6V124.2M324 118.7V126.3M324.5 118.3V124.6M325 118.6V124.8M325.5 119.5V125.4M326 115.1V126M326.5 115.3V131.5M327 120.2V132.1M327.5 120V132.4M328 119.8V127.7M328.5 115.7V128M329 115.5V132.9M329.5 115.3V132.9M330 119.2V128.2M330.5 118.9V131.4M331 118.7V131.4M331.5 116.1V128.1M332 115.9V128.1M332.5 116V128.1M333 118.6V132.8M333.5 119.6V132.8M334 120.6V127.9M334.5 120.9V127.8M335 122.7V127.7M335.5 123.4V132.2M336 121.6V132.1M336.5 125V128.4M337 125.9V129.3M337.5 126.8V132.6M338 122.9V133.1M338.5 128.6V133.6M339 129.8V131.2M339.5 131V131.9M340 131.5V132.7M340.5 132.4V133.7M341 133.9V135M341.5 133.1V135.7M342 135.7V136.7M342.5 136.1V137.7M343 136.5V138.7M343.5 137V143.4M344 137.2V144.4M344.5 137.7V145.4M345 138.1V142.6M345.5 139V143M346 139.7V143.3M346.5 140.4V147.6M347 137.8V147.9M347.5 141.9V148.4M348 142.6V145" stroke="#0c0cf6" stroke-width="0.9" fill="none"/>
<path d="M463 126.9V132.5M463.5 126.2V132M464 125.4V131.3M464.5 121.9V130.1M465 124.1V131.1M465.5 123.1V128.4M466 122V130.2M466.5 121.7V129.7M467 118.9V128.5M467.5 119.8V125.1M468 117.7V125.7M468.5 118.4V126.8M469 117V123M469.5 114.7V124M470 115.4V121M470.5 113.2V120.8M471 111.7V120.5M471.5 113.5V118.6M472 109.8V118.4M472.5 110.7V117.1M473 108.6V117M473.5 107.5V116.5M474 109.5V115.2M474.5 108.5V114M475 106.1V114.5M475.5 106.6V112.4M476 105.5V112.9M476.5 105.5V112M477 104.7V110.6M477.5 101.6V110M478 102.4V108.5M478.5 100.3V108M479 100.4V106.7M479.5 100.6V106.7M480 99.5V105.3M480.5 96.7V104.1M481 98.2V105.8M481.5 96.8V104.3M482 96.3V101.8M482.5 93.7V101.5M483 93.7V100.3M483.5 92.3V100M484 91V100.7M484.5 92.3V100.1M485 91V98M485.5 90V96M486 87.5V98.1M486.5 88.9V94.6M487 87.9V97.2M487.5 87.5V96.6M488 91.7V99.7M488.5 89.6V98.6M489 92.7V99.2M489.5 92.3V99.6M490 95.2V103.6M490.5 96.2V103.6M491 95.4V104.6M491.5 93.4V101.3M492 93.2V100.4M492.5 94.4V100.6M493 93.6V100.4M493.5 89.5V99.1M494 90.9V97.5M494.5 88.9V96M495 89.8V98.2M495.5 89.1V94.5M496 86.2V93.4M496.5 86.5V95.9M497 86.3V92M497.5 83.3V90.9M498 83.9V90.9M498.5 84.2V89.8M499 82.2V88.7M499.5 83.1V90.9M500 81.2V87.7M500.5 82V87.8M501 81.2V87.6M501.5 79.5V88M502 80.2V86.2M502.5 80.2V85.5M503 77.2V84.7M503.5 78.3V84.3M504 77.2V84.4M504.5 78.8V84.8M505 77V84.8M505.5 78.7V86.4M506 77.5V86.1M506.5 77.6V85.6M507 79.6V88.8M507.5 80.2V85.2M508 77.9V84.7M508.5 76.3V83.1M509 76.2V83.7M509.5 75.5V80.8M510 74.7V79.8M510.5 73.4V80.1M511 71.5V78.2M511.5 71V78.2M512 67.8V78.6M512.5 68.5V74.2M513 68V73.1M513.5 66.3V74.7M514 64.7V72.8M514.5 64.2V71.8M515 63.6V71.2M515.5 63.1V69.8" stroke="#0c0cf6" stroke-width="0.8" fill="none"/>
<path d="M38.2 202v5.8M38.2 213.8v4.3M39.1 213.8v6.4M40 201.4v6.4M40 213.8v4.6M40.9 200.2v7.6M40.9 213.8v3.4M41.8 201.6v6.2M41.8 213.8v4.3M42.7 213.8v7.2M43.6 199.3v8.5M43.6 213.8v7.1M44.5 200.2v7.6M45.4 200v7.8M45.4 213.8v7M46.3 200.4v7.4M48.1 202.3v5.5M48.1 213.8v8.5M49 201v6.8M49 213.8v3.7M49.9 213.8v7.5M50.8 202.2v5.6M50.8 213.8v3.1M51.7 201.3v6.5M51.7 213.8v5.8M52.6 202.8v5M52.6 213.8v2.5M53.5 204.3v3.5M53.5 213.8v8.9M54.4 213.8v2.9M55.3 199.6v8.2M55.3 213.8v5.8M57.1 213.8v4M58 204v3.8M58 213.8v5.1M58.9 204.2v3.6M58.9 213.8v8.4M59.8 205.3v2.5M59.8 213.8v3.7M60.7 201.3v6.5M60.7 213.8v5.2M61.6 205.8v2M62.5 202.7v5.1M62.5 213.8v8.1M63.4 205.4v2.4M63.4 213.8v7.8M64.3 205.3v2.5M64.3 213.8v3.2M65.2 200.4v7.4M65.2 213.8v2M66.1 200.8v7M66.1 213.8v2.3M67 205.5v2.3M67.9 200.7v7.1M69.7 203.2v4.6M69.7 213.8v2.5M70.6 202.3v5.5M70.6 213.8v4.9M71.5 213.8v3.1M72.4 201.2v6.6M72.4 213.8v3.9M73.3 213.8v4.9M74.2 200.6v7.2M75.1 205.7v2.1M76 213.8v4.7M76.9 199.2v8.6M76.9 213.8v3.1M77.8 205.2v2.6M77.8 213.8v4.6M78.7 213.8v2.4M79.6 200.2v7.6M79.6 213.8v6M81.4 203.4v4.4M81.4 213.8v3.2M82.3 203.1v4.7M84.1 199.9v7.9M84.1 213.8v8.4M85 201.5v6.3M85 213.8v2.6M85.9 213.8v8.2M86.8 199.8v8M86.8 213.8v6.3M87.7 202.5v5.3M87.7 213.8v2.3M88.6 213.8v4.5M89.5 199v8.8M90.4 199.6v8.2M91.3 201.1v6.7M91.3 213.8v4.7M92.2 199.9v7.9M93.1 203.6v4.2M93.1 213.8v4.7M94 202.3v5.5M94 213.8v2M94.9 213.8v5.1M95.8 200.1v7.7M96.7 213.8v2.5M97.6 203.2v4.6M98.5 201.2v6.6M98.5 213.8v2.9M99.4 213.8v7M100.3 200.5v7.3M101.2 200.3v7.5M101.2 213.8v2.5M102.1 201v6.8M102.1 213.8v2.9M103 213.8v7.7M103.9 213.8v7M104.8 200v7.8M104.8 213.8v3.8M105.7 201.5v6.3M106.6 204v3.8M107.5 201.7v6.1M107.5 213.8v3.7M108.4 204.4v3.4M108.4 213.8v6.5M109.3 203.5v4.3M109.3 213.8v7.5M110.2 200.4v7.4M110.2 213.8v8M111.1 213.8v5.7M112 199.5v8.3M112 213.8v5.7M113.8 203.2v4.6M113.8 213.8v3M114.7 205.2v2.6M114.7 213.8v6.3M115.6 213.8v5.6M116.5 199v8.8M119.2 203.8v4M119.2 213.8v4.9M120.1 205.5v2.3M120.1 213.8v6.3M121 205.4v2.4M121 213.8v4.1M121.9 202.1v5.7M121.9 213.8v4.1M122.8 203.2v4.6M123.7 205.7v2.1M124.6 213.8v2.4M125.5 201.1v6.7M125.5 213.8v7.7M126.4 213.8v7.7M127.3 213.8v6M128.2 202.2v5.6M128.2 213.8v3.2M129.1 205.4v2.4M129.1 213.8v3.3M130 199.4v8.4M130 213.8v6.3M130.9 204.4v3.4M130.9 213.8v5.6M131.8 201.3v6.5M131.8 213.8v6.3M132.7 205.4v2.4M132.7 213.8v9M133.6 213.8v5.8M134.5 202.7v5.1M135.4 201.2v6.6M135.4 213.8v9M136.3 201.3v6.5M136.3 213.8v8.2M138.1 205.4v2.4M138.1 213.8v6.8M139 199.4v8.4M139.9 199.3v8.5M140.8 202.2v5.6M140.8 213.8v8.3M141.7 213.8v3.1M142.6 213.8v4.7M143.5 203.1v4.7M145.3 213.8v5.3M146.2 205.8v2M146.2 213.8v8.7M147.1 199.6v8.2M148 201.7v6.1M148 213.8v3.2M148.9 205v2.8M148.9 213.8v3.1M150.7 204.8v3M150.7 213.8v2.3M151.6 205.5v2.3M152.5 213.8v8.7M153.4 201.2v6.6M155.2 204.1v3.7M155.2 213.8v2.2M157 213.8v7.3M157.9 202.5v5.3M157.9 213.8v7.5M158.8 203.7v4.1M158.8 213.8v3.8M159.7 199.3v8.5M159.7 213.8v7.3M161.5 202.5v5.3M161.5 213.8v7.2M162.4 213.8v5.6M163.3 202.5v5.3M163.3 213.8v6M165.1 203.8v4M165.1 213.8v5.7M166 200.5v7.3M166 213.8v4.4M166.9 200.9v6.9M167.8 213.8v8.7M168.7 201.8v6M168.7 213.8v7.7M169.6 213.8v3.2M171.4 198.9v8.9M171.4 213.8v2.7M172.3 205.1v2.7M174.1 201.3v6.5M174.1 213.8v4.1M175 202v5.8M175 213.8v8.9M175.9 199.2v8.6M175.9 213.8v6.2M176.8 201.6v6.2M176.8 213.8v6.1M177.7 199.7v8.1M177.7 213.8v5.9M178.6 202.6v5.2M178.6 213.8v3.8M179.5 203.5v4.3M179.5 213.8v6.9M180.4 203.9v3.9M181.3 213.8v7.1M183.1 203.4v4.4M183.1 213.8v8.7M184 199.1v8.7M184.9 201.2v6.6M184.9 213.8v3.1M185.8 203.7v4.1M185.8 213.8v3.9M186.7 199.4v8.4M186.7 213.8v8.2M187.6 205.7v2.1M188.5 204.2v3.6M189.4 205.6v2.2M189.4 213.8v7.2M190.3 204.1v3.7M191.2 213.8v6.5M192.1 213.8v6.6M193 213.8v6.1M193.9 204.5v3.3M193.9 213.8v5M194.8 200.9v6.9M195.7 203v4.8M196.6 199.9v7.9M196.6 213.8v2.1M197.5 213.8v6.6M199.3 205.7v2.1M200.2 213.8v3.8M201.1 200.8v7M202 203.3v4.4M202.9 204.3v3.4M202.9 213.8v2.1M203.8 213.8v4.4M204.7 213.8v8.9M205.6 202.1v5.6M206.5 213.7v6.5M207.4 203.1v4.7M207.4 213.7v2.5M208.3 213.7v6.7M209.2 204.9v2.8M209.2 213.7v4.8M211.9 204.5v3.2M212.8 200.1v7.6M212.8 213.7v6.5M214.6 201v6.7M215.5 213.6v9M216.4 213.6v7.5M217.3 200.1v7.5M217.3 213.6v6.9M218.2 198.7v8.9M218.2 213.6v5.4M220 201v6.6M220 213.6v5.4M220.9 205v2.6M221.8 203.5v4.1M221.8 213.6v2.6M222.7 203.3v4.3M223.6 203.1v4.4M223.6 213.6v6.6M224.5 205.1v2.5M224.5 213.6v6.3M225.4 199.6v8M225.4 213.5v5.2M226.3 213.5v4.8M227.2 201.3v6.3M227.2 213.5v8.8M228.1 199.2v8.3M228.1 213.5v6.5M229 202v5.5M229 213.5v2.6M229.9 213.5v2.8M230.8 202.7v4.9M231.7 201.8v5.9M231.7 213.7v8.3M232.6 213.8v3.2M233.5 200.8v7.1M233.5 213.9v4.2M234.4 202.5v5.5M234.4 214v5.3M235.3 199.1v9M235.3 214.1v3.3M236.2 201.7v6.5M236.2 214.2v2.3M238 214.4v5.4M238.9 214.5v3.5M239.8 205.7v2.9M239.8 214.6v6.6M240.7 201.3v7.4M240.7 214.7v8.4M241.6 204.4v4.4M241.6 214.8v2.4M242.5 204.4v4.5M242.5 214.9v4.3M244.3 205.7v3.4M244.3 215.1v2.8M245.2 202.3v7M245.2 215.2v8.8M246.1 200.5v9M246.1 215.5v5.9M247 203.7v6M247 215.7v2.8M247.9 202.1v7.8M247.9 215.9v7.4M248.8 204.6v5.5M248.8 216.1v4.6M249.7 203.6v6.7M249.7 216.3v8.1M250.6 208.4v2.2M251.5 216.8v5M253.3 205v6.2M253.3 217.2v5.9M254.2 208v3.4M255.1 217.6v2.2M256 207.5v4.5M260.5 209v5.1M262.3 209.3v5.5M263.2 211.1v4.1M265 211v5M265.9 222.5v2.5M266.8 222.9v4.6M270.4 213.4v5.4M270.4 224.8v4.5M273.1 218.1v2.1M273.1 226.2v6M279.4 216.2v6.3M279.4 228.6v6.3M280.3 217.2v5.6M282.1 218v5.4M283 218.9v4.8M285.7 221.9v2.7M287.5 221.6v3.7M288.4 231.8v4M290.2 223.8v2.7M292 224.7v2.6M292.9 233.7v6.4M299.2 226.8v3.8M301 227.7v3.7M302.8 228.5v3.8M303.7 226.9v5.7M304.6 239.1v3M305.5 227.9v5.6M305.5 239.5v4.6M307.3 240.4v6.2M310 232.2v3.4M310 241.6v3.3M310.9 242v2.9M312.7 242.8v6.2M313.6 234.8v2.4M315.4 232.3v5.8M317.2 236.7v2.2M321.7 237.4v3.4M321.7 246.8v2.4M323.5 235.8v5.8M324.4 236.8v5.2M324.4 248v6.2M325.3 248.5v4.5M326.2 237.1v6.1M326.2 249.2v4.3M328 250.5v3.4M328.9 242.3v2.9M336.1 254.1v5.7M337 243.6v4.8M339.7 255.3v2.3M341.5 247.5v2.5M343.3 246.7v4M344.2 257.1v3.9M345.1 249.3v2.1M346 246.2v5.6M346 257.8v2.5M347.8 248.2v4.3M350.5 248.4v5.4M351.4 260.4v3.1M352.3 251.3v3.8M353.2 249.9v5.7M354.1 251.4v4.9M356.8 264.2v3.6M357.7 255v3.8M357.7 264.9v2.8M359.5 257.4v2.8M362.2 259.4v2.6M363.1 268.6v3.4M364 258.1v5.1M366.7 260.2v4.9M367.6 261.8v3.8M368.5 261.3v5M368.5 272.3v4.5M369.4 272.9v5.2M372.1 273.9v3.6M373 262.4v5.7M375.7 266.4v2.5M376.6 275.1v5.6M377.5 266.2v3.1M377.5 275.3v4.8M378.4 266.2v3.4M379.3 275.8v6.2M380.2 276.1v5.8M382 267v4M382.9 268.6v2.8M382.9 277.4v4.1M384.7 269.7v2.5M385.6 278.7v3M388.3 269.1v4.9M390.1 268.5v6.4M390.1 280.8v3.6M395.5 270.8v5.1M397.3 273.7v2.5M397.3 282.2v3.5M398.2 271.3v5M398.2 282.4v3.9M400 282.7v6.4M400.9 282.7v5.9M403.6 282.8v2.5M404.5 274.7v2.1M404.5 282.8v2.2M405.4 273.2v3.6M405.4 282.8v2.3M407.2 282.8v4.7M410.8 271.6v5.3M411.7 272.8v4M412.6 273.1v3.7M415.3 282.9v3.5M416.2 272.5v4.5M418 270.7v6.3M418.9 283v6M419.8 274.7v2.3M419.8 283v4.5M426.1 282.7v2.9M427 282.7v5.8M427.9 270.8v5.9M428.8 282.6v4.8M430.6 282.4v3.8M431.5 282.2v3.8M432.4 282v5.8M433.3 271v4.8M433.3 281.8v5.8M434.2 281.6v3.6M436.9 269.6v5.4M440.5 268.4v5.7M442.3 269.9v3.5M444.1 269.5v3.2M445 267.9v4.4M448.6 265.8v5M449.5 268.2v2.3M449.5 276.5v3.8M451.3 275.8v2.8M454.9 274.5v3.6M455.8 274.2v3.4M456.7 262.9v5M456.7 273.9v3.5M460.3 260.6v6M461.2 261.8v4.5M461.2 272.3v4.6M463 271.8v2M465.7 262.9v2.1M465.7 271v2.8M468.4 270.2v2.9M469.3 269.9v4.3M470.2 269.6v2.3M474.7 257.2v3.1M474.7 266.3v2.1M476.5 265v2.9M477.4 264.3v3M479.2 254.7v2.2M479.2 263v3M480.1 251.7v4.6M480.1 262.3v2M481.9 261.1v6M482.8 260.5v5M485.5 258.6v5.9M486.4 249.2v2.8M487.3 245.4v6M493.6 254.4v2.1M494.5 254.2v2.6M495.4 243.4v4.5M497.2 253.3v3.7M498.1 243.2v3.8M499 252.8v4.1M499.9 240.7v5.9M504.4 240.5v5.4M505.3 239.8v5.8M506.2 251v5.2M507.1 242.3v2.1M508.9 240.3v2.8M509.8 236.4v6.1M510.7 247.9v5.2M511.6 237.9v3.3M516.1 234.8v3.6M517.9 232.5v5.2M519.7 242.8v3.3M520.6 231.7v4.7M520.6 242.4v5M523.3 229.9v5.3M525.1 240.5v4.2M527.8 239.2v5.4M531.4 237.4v3.4M535 235.7v4.4M540.4 222.3v5M542.2 220.2v6.3M543.1 232.1v2.7M544 231.7v3.2M544.9 231.3v3.6M545.8 220.1v4.9M545.8 230.9v5.1M547.6 230.1v5.1M548.5 218.8v4.9M549.4 218v5.2M550.3 218v4.8M550.3 228.8v3.9M552.1 215.6v6.4M553 227.5v5.1M553.9 216.9v4.2M553.9 227.1v6M554.8 226.7v3.4M555.7 226.4v4M556.6 226.1v4.5M557.5 215.7v4.1M560.2 214v4.9M562.9 214.7v3.3M564.7 223.4v5.4M565.6 213.3v3.8M565.6 223.1v3.7M568.3 211.1v5.2M571 212.9v2.6M571.9 221.3v2.3M572.8 209.4v5.6M574.6 211.5v3M577.3 210.9v3M577.3 220v4.9M580 209.8v3.7M580 219.4v4.7M581.8 210.8v2.3M581.8 219.1v5.2M582.7 218.9v2M583.6 218.7v5.3M584.5 218.6v5.6M585.4 206.4v6M585.4 218.4v5.8M586.3 207.2v5M586.3 218.2v6.4M587.2 207.2v4.8M587.2 218v2.6M589 205.1v6.6M589 217.7v4.9M589.9 204.9v6.6M589.9 217.5v8.1M590.8 205v6.4M591.7 204.2v7.2M591.7 217.4v3M592.6 205.5v5.9M593.5 207.6v3.7M593.5 217.3v3.8M594.4 202.5v8.8M594.4 217.3v7.2M595.3 203.4v7.9M595.3 217.2v3.3M596.2 204.2v7M596.2 217.2v5.2M597.1 204.3v6.9M598 217.1v8M598.9 203.5v7.6M598.9 217.1v5.5M599.8 203.1v7.9M600.7 202.3v8.7M600.7 217v5.2M601.6 205.3v5.8M602.5 205.8v5.3M602.5 217.1v4.6M603.4 206.3v4.8M603.4 217.2v2.3M605.2 208.4v2.8M605.2 217.3v8.4M606.1 202.4v8.9M606.1 217.3v2.8M607 217.3v4.6M608.8 217.4v3.8M609.7 205.9v5.6M609.7 217.5v4.5M610.6 203.8v7.7M610.6 217.5v4.5M611.5 205.3v6.2M611.5 217.5v8.4M612.4 207v4.5M612.4 217.5v2.1M613.3 217.5v7.5M614.2 209v2.5M614.2 217.5v3.1M616 203.6v7.9M616 217.5v3.8M617.8 206.3v5.1M617.8 217.4v9M618.7 206.1v5.4M618.7 217.4v7.9M619.6 205.1v6.3M619.6 217.4v6.2M621.4 206.3v5.1M621.4 217.4v8.7M622.3 206.9v4.5M622.3 217.4v4.2M623.2 205v6.4M623.2 217.4v7.7M624.1 217.4v5.3M625 217.4v4.3M625.9 207.8v3.6M625.9 217.4v8.1M626.8 205v6.4M627.7 206.7v4.7M627.7 217.4v8.9M628.6 205.4v6M628.6 217.4v3M629.5 203v8.4M630.4 208v3.4M630.4 217.4v6M631.3 203.8v7.5M632.2 203.8v7.6M632.2 217.3v2.5M633.1 217.3v4.5M634 217.3v8.1M634.9 217.3v6.9M635.8 203.1v8.2M636.7 203v8.3M637.6 217.3v3.4M638.5 217.3v4.8M639.4 203.9v7.4M640.3 208.3v3M641.2 205.3v6M641.2 217.3v8.8M642.1 207.9v3.3M643 207.1v4.1M643 217.3v5.3M643.9 217.3v7M645.7 208v3.2M646.6 203.9v7.3M646.6 217.2v3.7M647.5 208.9v2.3M647.5 217.2v8.2M648.4 205.7v5.5M648.4 217.2v3.7M649.3 208.3v2.9M649.3 217.2v2.5M650.2 217.2v7M651.1 207.3v3.9M651.1 217.2v2.1M652 209v2.2M652 217.2v8.1M652.9 205.8v5.4M652.9 217.2v7.6M653.8 203.1v8M654.7 204.9v6.3M655.6 217.2v8.6M656.5 217.2v4.2M657.4 207v4.2M657.4 217.2v7M658.3 217.2v2.1M659.2 205.4v5.7M660.1 206.6v4.5M660.1 217.1v6.8M661 217.1v8.9M661.9 207.5v3.6M661.9 217.1v7.7M662.8 208.9v2.2M662.8 217.1v6.6M663.7 204.2v6.9M663.7 217.1v4.5M664.6 207.2v3.9M664.6 217.1v5.9M665.5 203.4v7.7M666.4 204.7v6.4M666.4 217.1v8.9M667.3 217.1v2.9M668.2 207.6v3.4M669.1 204.8v6.2M671.8 206.6v4.5M672.7 203v8M672.7 217.1v8.4M673.6 217v3.5M674.5 217v6.6M675.4 203.4v7.6M676.3 206.6v4.5M676.3 217v4.6M677.2 217v6.6M678.1 217v2.1M679 217v4.5M679.9 206v5M679.9 217v8.2M680.8 202.1v8.9M681.7 202.5v8.5M682.6 217v4.1M683.5 208.9v2M684.4 206.7v4.2M684.4 217v8.7M685.3 208.6v2.4M687.1 203.5v7.4M687.1 216.9v5M688 202.4v8.6M688 216.9v7.6M688.9 202.5v8.4M688.9 216.9v4.1M689.8 206.5v4.5M690.7 206.1v4.8M690.7 216.9v6.5M691.6 206.1v4.8M691.6 216.9v8.3M692.5 207.5v3.4M692.5 216.9v2.1M693.4 204.7v6.2M693.4 216.9v6.9M694.3 216.9v8.3M695.2 208.1v2.8M696.1 216.9v2M697 205.1v5.8M697 216.9v5.8M697.9 216.9v7.9M698.8 216.9v8.8M700.6 208.3v2.5M701.5 207v3.9M702.4 208.5v2.3M703.3 216.8v4.3M704.2 205.7v5.2M704.2 216.8v4.3M705.1 201.9v9M706 205.9v5M706 216.8v4.7M706.9 203.5v7.3M708.7 207.1v3.7M708.7 216.8v8.9M709.6 203.7v7.1M710.5 216.8v2.6M711.4 208.5v2.2M712.3 204.9v5.9M712.3 216.8v5.1M713.2 205.6v5.2M713.2 216.8v5.3M714.1 205.5v5.3M714.1 216.8v5.8M715 203v7.8M715.9 216.7v2.4M716.8 216.7v6.6M717.7 216.7v7.6M718.6 202.3v8.5M719.5 202.8v7.9M720.4 204.6v6.1M720.4 216.7v9M721.3 203.4v7.3M721.3 216.7v3.4M722.2 206.1v4.6M722.2 216.7v3.1M723.1 207.4v3.2M724 216.7v8.4M724.9 206.1v4.5M725.8 205.8v4.9M726.7 206.1v4.6M726.7 216.7v5.7M727.6 204v6.6M727.6 216.7v4M728.5 207.9v2.8M728.5 216.7v7.1M729.4 205v5.6M729.4 216.6v2.9M730.3 204v6.6M730.3 216.6v5.7M731.2 216.6v5.9M732.1 206.8v3.8M732.1 216.6v4.1M733 202.2v8.4M733 216.6v3.9M733.9 204.9v5.7M733.9 216.6v2.6M734.8 201.9v8.7M734.8 216.6v7.5M736.6 208.3v2.3M737.5 216.6v6.3M738.4 206.9v3.7M739.3 204.2v6.3M740.2 216.6v2.4M741.1 202.5v8M741.1 216.6v5.1M742 205.7v4.9M742.9 203v7.5M742.9 216.6v5.9M744.7 201.6v9M744.7 216.5v2.5M745.6 207.6v2.9M746.5 206.9v3.6M746.5 216.5v5.8M747.4 216.5v4.3M748.3 205.3v5.2M748.3 216.5v7.9" stroke="#62ea62" stroke-width="1.1" fill="none"/>
<path d="M351 146.5H371" stroke="#1010f8" stroke-width="6.5"/>
<path d="M38.2 204.6v11.7M38.8 205v11.3M39.4 204.8v11.5M40 205.3v10.4M40.6 204.9v11M41.2 204.9v10.7M41.8 204.4v11.4M42.4 204.5v11.4M43 204v11.8M43.6 204.2v12.1M44.2 204.6v11.7M44.8 204.9v11.2M45.4 205.5v10.5M46 205.1v10.8M46.6 204.6v11.6M47.2 204.8v11M47.8 204.3v11.7M48.4 204.4v11.4M49 204.5v11.7M49.6 205v11.2M50.2 205v11M50.8 204.4v11.4M51.4 204v12.2M52 204.1v11.9M52.6 204.5v11.3M53.2 204.6v11.7M53.8 205.1v11.2M54.4 205.1v11.4M55 205.1v11.8M55.6 205.6v10.7M56.2 204.9v11.6M56.8 204.9v11.1M57.4 204.8v11.2M58 204.1v11.6M58.6 204.7v11.3M59.2 204.7v11.4M59.8 205.2v11.2M60.4 205v12M61 205.5v11.1M61.6 205.6v10.7M62.2 205.2v10.9M62.8 205.6v10.4M63.4 205.1v10.9M64 205.6v10.3M64.6 205v10.5M65.2 205.2v11M65.8 205v11.2M66.4 205.4v10.9M67 205.4v10.3M67.6 205.5v10.3M68.2 205.3v10.4M68.8 205.1v10.7M69.4 205.2v10.5M70 204.8v10.8M70.6 204.8v11.3M71.2 204.5v11.4M71.8 205.2v10.7M72.4 205.2v10.9M73 205.2v10.8M73.6 205.3v10.7M74.2 205v10.6M74.8 204.9v11.1M75.4 204.7v10.9M76 205.4v10.3M76.6 205.4v10.5M77.2 205v10.9M77.8 205.2v10.9M78.4 205v11.6M79 204.8v11.4M79.6 204.8v11.6M80.2 205.4v10.7M80.8 205v10.8M81.4 205.1v10.8M82 205.5v10.3M82.6 205.2v10.8M83.2 204.9v11M83.8 205v10.5M84.4 204.9v11M85 205v10.6M85.6 205.3v10.5M86.2 205v10.7M86.8 205.5v10.6M87.4 205v11M88 204.9v10.8M88.6 204.9v11.1M89.2 204.9v11.1M89.8 205.1v11M90.4 204.8v10.9M91 205.2v10.5M91.6 205.5v10.3M92.2 205.6v10.7M92.8 205.3v11M93.4 205.4v11.5M94 205.1v11.5M94.6 205.5v11.1M95.2 205.5v10.7M95.8 205.2v10.9M96.4 205.1v11.3M97 204.5v11.3M97.6 204.7v11.3M98.2 204.1v11.9M98.8 204v11.8M99.4 204.1v11.9M100 204.2v12.1M100.6 204.7v11.8M101.2 205v11.4M101.8 205.1v11.4M102.4 205.3v11.5M103 205v11.2M103.6 205.4v11M104.2 205.5v10.6M104.8 205.6v10.7M105.4 205.1v10.9M106 205.2v10.7M106.6 205.4v10.6M107.2 204.7v11.1M107.8 205.2v10.4M108.4 204.7v11.5M109 204.6v11.1M109.6 204.7v11.3M110.2 205.2v10.9M110.8 205.1v11.2M111.4 205.1v11.4M112 205.2v11M112.6 205.3v10.7M113.2 205.1v10.6M113.8 205v10.9M114.4 204.7v11.3M115 204.7v11.2M115.6 204.4v11.9M116.2 204.7v11.3M116.8 204.3v11.6M117.4 204.2v11.9M118 204.6v11.5M118.6 204.4v11.3M119.2 204v11.8M119.8 204.5v11.4M120.4 204.3v11.7M121 204.8v11M121.6 204.7v11.9M122.2 205.4v11.4M122.8 205.2v11.4M123.4 205.5v11.2M124 205.4v11M124.6 205.3v10.6M125.2 205.3v11M125.8 205.1v11.3M126.4 205.4v10.9M127 204.9v11.6M127.6 205.1v11.4M128.2 205.3v11.2M128.8 205.2v11.2M129.4 205v11.3M130 204.9v11.5M130.6 204.9v11.4M131.2 205v10.7M131.8 204.8v10.9M132.4 204.9v10.9M133 205.2v11.2M133.6 204.9v11.6M134.2 204.9v11.9M134.8 205.5v10.8M135.4 205.2v11.2M136 205v10.9M136.6 204.9v11.4M137.2 205.3v11.1M137.8 205.7v11M138.4 205.2v11M139 205.6v10.5M139.6 205.7v10.8M140.2 205.2v10.6M140.8 205.7v10.1M141.4 205.6v10.3M142 205.3v10.5M142.6 205.4v10.5M143.2 205.1v11.1M143.8 205.5v10.7M144.4 205.6v10.1M145 205.7v9.9M145.6 205v10.9M146.2 205v11.3M146.8 205.1v11.2M147.4 204.8v12.1M148 204.4v12.3M148.6 204.2v12.1M149.2 204.5v11.3M149.8 204.6v11.1M150.4 204.6v11M151 204.9v11.2M151.6 204.6v11.4M152.2 204.3v11.8M152.8 204.3v11.7M153.4 204.7v10.9M154 204.5v11.2M154.6 204.7v11.1M155.2 205v10.8M155.8 205.1v10.5M156.4 205.5v10.1M157 205.5v10.2M157.6 205.5v10.5M158.2 205.3v10.2M158.8 205.4v10.6M159.4 204.7v11.3M160 205.1v10.4M160.6 204.7v11.1M161.2 204.3v11.9M161.8 204.3v12.3M162.4 204.5v12.1M163 204.8v12.1M163.6 204.9v11.6M164.2 204.7v11.5M164.8 204.7v11.5M165.4 204.6v11.3M166 204.6v11.9M166.6 204.5v12.2M167.2 204.6v11.7M167.8 205.1v11M168.4 205v11.4M169 205.3v10.7M169.6 204.8v11.2M170.2 204.9v11.2M170.8 204.5v11.3M171.4 204.8v11M172 204.9v11M172.6 205.4v10.1M173.2 205.2v10.4M173.8 205.1v10.6M174.4 205.1v11.2M175 205.4v10.5M175.6 205.3v10.5M176.2 205.3v10.9M176.8 205.3v10.4M177.4 205.4v10.2M178 205.1v10.9M178.6 205v10.8M179.2 204.7v11.7M179.8 204.7v11.8M180.4 204.7v12M181 204.5v12M181.6 204.8v11.6M182.2 204.5v12M182.8 205.1v11.4M183.4 204.8v11.2M184 204.9v11.3M184.6 204.2v11.8M185.2 204.4v11.1M185.8 204.5v11.3M186.4 204.2v11.5M187 204.7v11.3M187.6 204.5v11.6M188.2 204.8v11.2M188.8 205v10.9M189.4 205.5v10.2M190 205v10.7M190.6 205v10.7M191.2 205.4v10.3M191.8 204.9v10.8M192.4 204.9v10.5M193 205.2v10.4M193.6 204.8v11.3M194.2 204.7v10.9M194.8 204.7v11.5M195.4 204.5v11.2M196 204.1v11.9M196.6 204.6v11.1M197.2 204.7v10.8M197.8 204.5v10.8M198.4 204.9v10.9M199 205v10.7M199.6 204.7v11.1M200.2 204.7v10.7M200.8 204.3v11.1M201.4 204.7v10.8M202 204.6v11M202.6 204.8v10.8M203.2 205.2v10.7M203.8 205v10.6M204.4 204.7v11.1M205 204.9v11.3M205.6 204.4v11.8M206.2 204.5v11.4M206.8 204.6v11.3M207.4 204.9v11.1M208 204.9v10.9M208.6 205.3v10.9M209.2 205.1v11.4M209.8 205.3v10.9M210.4 205.3v11.5M211 204.5v11.7M211.6 204.6v11.7M212.2 204.5v11.3M212.8 204.3v11.6M213.4 204.9v10.8M214 205v10.8M214.6 204.9v11.1M215.2 205.4v10.6M215.8 205v11.3M216.4 205.4v11.1M217 205.1v11.4M217.6 204.9v11.1M218.2 205v10.8M218.8 204.6v11.3M219.4 205v10.8M220 204.6v11.2M220.6 204.7v11.2M221.2 204.8v11.1M221.8 204.6v11M222.4 204.8v11.5M223 204.6v11.2M223.6 204.4v11.7M224.2 204.7v11.3M224.8 204.4v10.9M225.4 204.7v11.1M226 204.6v10.6M226.6 204.8v10.4M227.2 205.1v10.3M227.8 204.6v11M228.4 204.7v11M229 204.9v10.5M229.6 204.8v10.9M230.2 205.1v10.7M230.8 204.7v10.7M231.4 205.2v10.5M232 204.6v10.8M232.6 205v10.7M233.2 205.5v10.7M233.8 205.2v11.7M234.4 205.3v11.6M235 205.6v11.2M235.6 205.5v10.9M236.2 205.3v11M236.8 205.4v11M237.4 205.1v11.7M238 205.7v10.9M238.6 205.7v10.7M239.2 205.8v10.9M239.8 205.9v10.4M240.4 206v10.6M241 206.2v10.5M241.6 206.1v10.3M242.2 205.7v11.4M242.8 206v10.7M243.4 206.4v10.6M244 206.9v10.3M244.6 207v10.1M245.2 207.1v9.7M245.8 207v10.4M246.4 207.1v10.1M247 207.6v9.6M247.6 208v9.4M248.2 207.9v9.9M248.8 207.9v10.4M249.4 208.5v10.1M250 208.5v9.9M250.6 208.7v9.9M251.2 208.6v9.7M251.8 208.4v9.9M252.4 208.5v10.1M253 208v10.8M253.6 208.2v10.5M254.2 208.7v10.3M254.8 209v10.2M255.4 209.6v9.8M256 210.2v9.7M256.6 210.6v9.4M257.2 210.4v10.1M257.8 210.7v10.3M258.4 211v9.9M259 211.2v9.8M259.6 212.1v9.4M260.2 212.2v9.5M260.8 212.4v9.7M261.4 212.5v9.7M262 213.3v9.1M262.6 213.1v9M263.2 213.4v9.2M263.8 213.7v9.1M264.4 214.2v8.9M265 214.6v8.9M265.6 215.1v8.7M266.2 214.9v8.9M266.8 215.5v9M267.4 215.1v9.5M268 215.4v9.3M268.6 216v9M269.2 216.4v8.9M269.8 216.1v9.3M270.4 216.4v9.3M271 217.3v9.2M271.6 217.5v9.6M272.2 218.4v9.1M272.8 218.8v8.9M273.4 218.9v8.5M274 218.9v8.8M274.6 219.5v8.8M275.2 219.8v8.3M275.8 220.1v8.8M276.4 220.4v8.7M277 220.6v8.9M277.6 221v9.2M278.2 220.7v9.1M278.8 221.4v8.6M279.4 221.1v9M280 221.8v8.3M280.6 222v8M281.2 221.6v8.6M281.8 221.7v8.9M282.4 222.2v8.3M283 222.3v8.5M283.6 222.7v8.3M284.2 222.9v8.9M284.8 223.2v8.6M285.4 223.3v8.5M286 223.2v9.3M286.6 223.5v8.6M287.2 223.2v9.2M287.8 223.8v8.8M288.4 224.2v8.4M289 224.5v8.9M289.6 225.2v8.4M290.2 225.1v8.6M290.8 225.4v8.5M291.4 225.7v8.9M292 225.8v8.8M292.6 226v8.6M293.2 226.6v8.3M293.8 226.7v8.8M294.4 227.1v8.3M295 227.6v8.4M295.6 227.4v8.7M296.2 227.4v8.7M296.8 227.5v9M297.4 227.4v9.5M298 227.6v9.6M298.6 228.4v9.1M299.2 228.9v8.7M299.8 229.1v8.9M300.4 229.7v9M301 229.8v9.2M301.6 230.2v9.3M302.2 230.4v9.4M302.8 230.9v9.4M303.4 231.6v8.7M304 231.7v8.8M304.6 231.8v8.8M305.2 232.3v8.3M305.8 232.4v8.5M306.4 232.5v8.9M307 233.1v8.8M307.6 233.6v8.6M308.2 233.9v8.8M308.8 234v8.9M309.4 234v8.5M310 234.3v8.2M310.6 234.7v8.6M311.2 234.8v8.7M311.8 234.8v9.3M312.4 235.5v8.7M313 235.5v8.7M313.6 235.4v9.3M314.2 236.1v8.7M314.8 235.9v9M315.4 236.5v9M316 236.8v9.2M316.6 237.1v9.3M317.2 237.6v9.1M317.8 237.5v9.4M318.4 237.2v10M319 237.7v9.5M319.6 237.6v9.7M320.2 238.4v9.8M320.8 238.8v9.8M321.4 239.6v9.4M322 239.4v9.4M322.6 239.8v9.4M323.2 240.2v8.9M323.8 239.7v10M324.4 240.2v9.4M325 239.9v9.5M325.6 240.9v9.3M326.2 241.3v9.3M326.8 241.9v9M327.4 242.6v8.9M328 243.4v8M328.6 243.5v8.4M329.2 244v8.3M329.8 244.8v7.8M330.4 245.1v8.4M331 245.2v8.5M331.6 245.6v8M332.2 245.5v8.7M332.8 246v8.1M333.4 245.9v8.6M334 246.3v8.8M334.6 245.8v9.7M335.2 245.8v9.5M335.8 246v9.4M336.4 246.2v9M337 246v9.8M337.6 246.4v9.4M338.2 246.8v9.4M338.8 247.9v8.7M339.4 247.6v9.2M340 248.2v8.7M340.6 248.4v8.8M341.2 248.3v9.4M341.8 249v8.7M342.4 248.9v8.7M343 249v8.9M343.6 249.4v9M344.2 249.6v8.5M344.8 249.6v9M345.4 250v8.7M346 250.1v8.6M346.6 250.4v8.9M347.2 251.1v8.1M347.8 251.3v8.2M348.4 251.1v8.8M349 251.5v8.5M349.6 252v7.9M350.2 252.1v8.5M350.8 252.3v8.5M351.4 253.2v8.2M352 253.6v8.2M352.6 253.7v8.9M353.2 254.4v8.9M353.8 254.8v8.4M354.4 254.6v9.5M355 255.2v9.3M355.6 255.4v9.8M356.2 256.2v9.5M356.8 256v10.2M357.4 257.1v9M358 257.7v8.9M358.6 257.8v9.3M359.2 258.3v8.9M359.8 258.6v8.7M360.4 259.2v8.9M361 259.5v9M361.6 259.4v9.2M362.2 260v9.3M362.8 260.6v8.6M363.4 261.1v9M364 261.3v9.3M364.6 262v9.1M365.2 262.8v9.2M365.8 263.2v9M366.4 263.8v8.4M367 264.2v8.8M367.6 264.5v8.5M368.2 264.4v8.7M368.8 264.7v9M369.4 264.7v9.6M370 265.4v9.2M370.6 265v9.7M371.2 265.2v9.9M371.8 265.6v9.9M372.4 266.1v9.3M373 266.5v8.7M373.6 266.2v9.5M374.2 266.8v9.1M374.8 266.7v8.7M375.4 266.5v9.3M376 267.3v9.1M376.6 266.9v9.3M377.2 267.4v9.2M377.8 267.5v9.4M378.4 267.4v9.8M379 267.8v9.6M379.6 267.5v9.9M380.2 268.1v10M380.8 268.5v9.6M381.4 268.7v9.8M382 269.2v9.5M382.6 269.2v9.3M383.2 269.9v8.5M383.8 269.9v9.1M384.4 270.7v8.4M385 271.2v8M385.6 271.6v8M386.2 271.9v8M386.8 271.9v8.5M387.4 272.6v8M388 272.5v8.3M388.6 272.9v8.2M389.2 273v8.5M389.8 273.7v8.2M390.4 273.3v8.6M391 273.9v8.1M391.6 273.9v8.4M392.2 273.7v8.7M392.8 273.7v8.6M393.4 274.3v8.7M394 274.1v8.9M394.6 274.6v8.9M395.2 274v9.5M395.8 274.5v9.3M396.4 274v9.6M397 274.3v9.9M397.6 273.9v10M398.2 273.9v9.4M398.8 274.1v9.5M399.4 274.7v9.5M400 275v8.8M400.6 274.8v9.1M401.2 274.9v8.7M401.8 275.2v8.4M402.4 275.5v8.5M403 275.4v8.5M403.6 275.2v9.2M404.2 275.4v8.8M404.8 274.8v9.6M405.4 274.9v9.6M406 274.4v10.2M406.6 274.9v10M407.2 274.8v10.1M407.8 275.3v9.5M408.4 275.6v9.1M409 275.4v9M409.6 275.6v8.4M410.2 275.8v8.3M410.8 275.9v8.1M411.4 275.6v8.8M412 275.6v8.6M412.6 275.9v7.8M413.2 275.7v8.5M413.8 276v8.2M414.4 275.9v8.6M415 275.6v8.8M415.6 275.6v9.2M416.2 275.3v9.3M416.8 275.6v8.9M417.4 275.5v8.8M418 275.9v8.4M418.6 275.7v8.8M419.2 275.6v8.8M419.8 275.8v8.2M420.4 275.7v8.6M421 275v9.5M421.6 274.9v9.3M422.2 274.9v9.1M422.8 275.2v8.9M423.4 275.3v8.9M424 275.5v8.9M424.6 275.3v9.4M425.2 275.7v9M425.8 275.6v8.9M426.4 275.3v9.3M427 275.6v8.5M427.6 275.5v8.9M428.2 275.5v8.5M428.8 275.2v9.2M429.4 274.5v9.8M430 274.9v9.3M430.6 274.2v10M431.2 274.2v9.2M431.8 273.8v9.4M432.4 274.2v8.7M433 274.1v8.7M433.6 274.1v8.8M434.2 273.6v8.7M434.8 273.5v9M435.4 272.7v9.9M436 272.5v9.6M436.6 273v9.2M437.2 272.6v9M437.8 273v8.5M438.4 273.3v8.5M439 273.2v8.3M439.6 273v8.2M440.2 273.2v8.1M440.8 272.5v8.2M441.4 272.5v8.3M442 272v8.2M442.6 272v8.2M443.2 271.6v8.1M443.8 271.6v8M444.4 271.4v8.4M445 270.9v8.2M445.6 271.1v7.9M446.2 270.7v8.3M446.8 270.5v8.2M447.4 270.3v8.4M448 269.9v8.6M448.6 269.8v8.5M449.2 269.3v8.9M449.8 269.5v8.5M450.4 269v8.8M451 269v8.5M451.6 268.5v8.9M452.2 268.5v8.6M452.8 267.7v8.9M453.4 267.7v8.8M454 267.3v8.5M454.6 266.9v9M455.2 267v8.9M455.8 266.3v8.9M456.4 265.8v9.5M457 265.4v9.6M457.6 265.9v9M458.2 266.2v8.5M458.8 266v8.4M459.4 265.4v8.9M460 265.2v9.4M460.6 264.8v9.6M461.2 264.8v9.5M461.8 264.4v9.7M462.4 264.2v9.4M463 264v9.5M463.6 264.5v8.7M464.2 264.4v8.1M464.8 264.3v8.4M465.4 263.8v8M466 263v8.7M466.6 263v8.6M467.2 262.9v8.4M467.8 262.3v8.8M468.4 262v9.4M469 262.4v8.5M469.6 261.8v9M470.2 261.9v8.3M470.8 261.5v8.8M471.4 260.9v8.5M472 260.5v8.5M472.6 259.5v9.3M473.2 259.1v9.4M473.8 258.7v9.4M474.4 258.7v8.8M475 258.2v9.1M475.6 258.3v8.4M476.2 257.5v8.8M476.8 256.4v9.9M477.4 255.9v10M478 255.8v9.7M478.6 255.8v8.7M479.2 255.2v9M479.8 254.8v8.6M480.4 254.7v8.8M481 254.2v8.8M481.6 253.5v9.3M482.2 253.2v8.9M482.8 252.7v9.1M483.4 252.3v9.7M484 252.6v8.8M484.6 252.1v8.5M485.2 251.3v9.1M485.8 251.3v8.4M486.4 250.8v8.7M487 250.1v8.5M487.6 249.9v8.8M488.2 249.8v8.5M488.8 249.4v8.6M489.4 248.4v9M490 247.7v9.1M490.6 247.7v9.5M491.2 247v9.9M491.8 246.6v9.4M492.4 246.7v9.2M493 246.4v9.6M493.6 246.2v9.3M494.2 246.3v9.2M494.8 246.5v8.6M495.4 246.6v8.6M496 246v9.1M496.6 246.1v8.4M497.2 245.2v9.2M497.8 245.5v8.6M498.4 245.4v8.4M499 245v9.1M499.6 244.9v8.8M500.2 244.8v9M500.8 244.7v9.3M501.4 244.8v9.1M502 245.2v8.9M502.6 244.6v9.8M503.2 245.1v9.2M503.8 244.8v9M504.4 244.3v9.3M505 244.3v9.3M505.6 244.3v8.6M506.2 243.3v9.1M506.8 243.1v8.9M507.4 242.6v9.5M508 241.6v9.9M508.6 241.1v10.3M509.2 241v9.9M509.8 240.6v9.5M510.4 239.9v9.7M511 239.5v9.4M511.6 239.3v9.2M512.2 238.8v9.4M512.8 238.7v9.3M513.4 238v9.2M514 237.4v9.1M514.6 237.5v9.2M515.2 237.2v9.2M515.8 237v9M516.4 237.1v9M517 236.4v9.2M517.6 236.2v9.2M518.2 235.8v9.5M518.8 235.8v9.4M519.4 234.9v9.6M520 234.6v9.8M520.6 234.8v9.2M521.2 234.1v10M521.8 234v9.4M522.4 233.6v9.2M523 233.9v8.7M523.6 233.4v9.6M524.2 233.7v8.7M524.8 233.5v9.1M525.4 232.9v8.9M526 232.8v9.1M526.6 232.7v8.3M527.2 232.4v8.6M527.8 232.1v8.5M528.4 231.9v9.1M529 231.3v9.1M529.6 230.5v9.6M530.2 230.1v9.7M530.8 230.1v9M531.4 229.5v9.3M532 229.5v8.9M532.6 229v9.1M533.2 228.8v9.2M533.8 228.5v8.8M534.4 228.5v8.7M535 227.9v9.1M535.6 227.7v9.1M536.2 227.5v9.3M536.8 227.4v9.4M537.4 226.8v9.9M538 227v9.1M538.6 226.6v9.9M539.2 225.7v10.5M539.8 225.6v9.6M540.4 225.2v10.1M541 225.1v9.1M541.6 225.1v9.2M542.2 225v8.9M542.8 224.4v9.6M543.4 224.6v8.9M544 223.9v8.9M544.6 223.8v8.6M545.2 223.3v8.9M545.8 222.5v9.4M546.4 222.5v8.8M547 222.4v8.7M547.6 222.4v8.6M548.2 221.8v9.3M548.8 222.2v8.3M549.4 221.7v9.4M550 221.6v9.2M550.6 220.8v9.8M551.2 220.8v9.7M551.8 220.5v9.9M552.4 220.7v9.1M553 220.2v9.1M553.6 220.3v8.9M554.2 219.7v8.6M554.8 219.2v9M555.4 218.8v8.9M556 218.2v9.3M556.6 217.8v9.4M557.2 217.7v9.4M557.8 217.7v8.9M558.4 217.4v9M559 217.4v8.7M559.6 217.8v8.1M560.2 217.3v8.3M560.8 217.6v7.8M561.4 216.9v8.8M562 216.5v9.3M562.6 216.6v9M563.2 216.8v8.9M563.8 216.5v8.9M564.4 216.1v9.2M565 216.2v8.7M565.6 216.2v7.9M566.2 215.7v8.4M566.8 215.3v8.7M567.4 215.3v8.5M568 215.3v9.1M568.6 215.1v9.2M569.2 215v9.4M569.8 214.7v9.5M570.4 214.5v9.1M571 214.5v8.3M571.6 214.4v8.3M572.2 213.8v8.4M572.8 213.4v8.9M573.4 213.4v8.5M574 213.2v8.3M574.6 213.1v8.5M575.2 212.8v8.8M575.8 212.7v8.6M576.4 212.5v8.8M577 212.4v8.8M577.6 211.9v9.2M578.2 212.1v8.9M578.8 211.5v9.6M579.4 211.5v9.5M580 211.6v9.2M580.6 211.3v9.7M581.2 211v10M581.8 211.3v9.3M582.4 211v9.7M583 210.8v9.5M583.6 210v10.4M584.2 209.8v11M584.8 209.9v10.5M585.4 209.7v10.9M586 209.7v10.9M586.6 209.5v11.3M587.2 209.3v11.5M587.8 208.6v11.7M588.4 208.6v11.3M589 208.5v11.3M589.6 208.3v11.1M590.2 208.6v11M590.8 208.9v10.7M591.4 209.2v10.7M592 209.1v10.9M592.6 209.2v10.5M593.2 208.6v11M593.8 208.6v11M594.4 208.6v11.2M595 208.1v11.3M595.6 208.5v11M596.2 208.1v11.7M596.8 208.8v11M597.4 208.8v10.6M598 208.3v11.4M598.6 208.5v11.2M599.2 208.5v10.6M599.8 208.5v11M600.4 208.3v11M601 208.6v10.2M601.6 208.6v10.8M602.2 207.9v11M602.8 208.1v10.9M603.4 207.9v11.4M604 208.1v11.2M604.6 207.8v11.1M605.2 207.7v11.4M605.8 207.9v11.4M606.4 208.3v11M607 208.4v10.7M607.6 208.3v10.8M608.2 208.3v11.3M608.8 208.6v10.9M609.4 208.6v11.1M610 208.8v10.5M610.6 208.9v10.9M611.2 208.9v10.7M611.8 209.1v10.4M612.4 208.5v11.6M613 208.6v11.3M613.6 208.6v11.2M614.2 208.6v11.6M614.8 208.7v11.4M615.4 208.3v11.4M616 208.5v11.5M616.6 208.1v11.5M617.2 208.7v10.9M617.8 208.6v10.8M618.4 208.8v10.7M619 208.6v10.9M619.6 209.2v9.9M620.2 208.8v10.7M620.8 208.7v10.5M621.4 208.8v10.6M622 208.8v10.4M622.6 208.5v10.8M623.2 209.1v10.3M623.8 208.7v10.3M624.4 209.1v10M625 209.4v10.2M625.6 208.9v10.5M626.2 209.3v9.8M626.8 209.2v9.8M627.4 209v10.1M628 208.8v10.3M628.6 209.2v10.2M629.2 209.2v9.7M629.8 208.7v10.5M630.4 209v10.8M631 209v11M631.6 208.3v12.1M632.2 208.4v11.9M632.8 208.4v11.5M633.4 208.3v11.4M634 207.8v11.8M634.6 208.2v11.4M635.2 208.3v11.2M635.8 208.7v10.5M636.4 208.4v11.1M637 208.6v10.9M637.6 208.7v10.9M638.2 208.1v11.3M638.8 207.6v11.5M639.4 207.6v11.7M640 207.6v12.1M640.6 208.1v11.6M641.2 207.6v12.1M641.8 208.1v11.4M642.4 208.2v11.4M643 208.8v10.5M643.6 208.8v10.6M644.2 208.7v10.7M644.8 208.2v11.1M645.4 208.2v11.2M646 207.9v11.3M646.6 208.4v10.9M647.2 208.5v10.8M647.8 208.9v10M648.4 208.6v10.2M649 208.7v10.7M649.6 208.6v10.6M650.2 208.4v11M650.8 208.8v11.2M651.4 208.3v11.8M652 208.4v11.8M652.6 208.4v11.3M653.2 208.8v10.8M653.8 208.4v11M654.4 208.8v11.3M655 208.4v11.4M655.6 208.7v11.6M656.2 208.2v11.8M656.8 208.5v11.6M657.4 208.2v11.5M658 208.7v11.3M658.6 208.9v11M659.2 208.5v11.1M659.8 208.7v10.4M660.4 208.5v10.9M661 208.4v10.5M661.6 208.1v11.3M662.2 208.4v10.9M662.8 208.5v10.9M663.4 208.8v10.6M664 208.7v10.2M664.6 208v10.7M665.2 207.8v11M665.8 207.6v11.1M666.4 207.8v11.2M667 207.4v11.9M667.6 207.2v11.6M668.2 207.8v11.5M668.8 207.8v11.3M669.4 207.8v11.7M670 207.8v11.8M670.6 208.1v11.6M671.2 208v11.6M671.8 207.8v11.6M672.4 207.8v11.6M673 208.4v10.9M673.6 208.5v11.4M674.2 208.2v11.8M674.8 208.4v11.6M675.4 208.7v10.9M676 208.7v10.8M676.6 208.9v11M677.2 209v10.7M677.8 208.7v10.5M678.4 208.7v10.6M679 208.3v11.2M679.6 208.9v10.4M680.2 208.8v10.3M680.8 208.7v10.2M681.4 208.6v10.2M682 208.3v10.9M682.6 208.8v10.1M683.2 208.6v10.1M683.8 208.5v10.4M684.4 208.7v10.4M685 208.3v10.4M685.6 208.4v10.1M686.2 208.6v9.9M686.8 208.2v10.5M687.4 208v10.7M688 208.1v10.8M688.6 207.9v10.9M689.2 208.4v10.1M689.8 208.1v11M690.4 208v10.8M691 208.1v10.8M691.6 208v10.7M692.2 208.1v10.6M692.8 208v10.6M693.4 208.1v11M694 208.1v11M694.6 207.8v11.1M695.2 208v10.9M695.8 208.4v10.4M696.4 208.3v10.5M697 208.2v11.1M697.6 208.6v10.7M698.2 208.5v11M698.8 208.2v11M699.4 208.7v10.7M700 208.2v10.9M700.6 208.2v10.5M701.2 208.2v10.9M701.8 208.4v10.3M702.4 208.3v10.8M703 208.1v11.1M703.6 208.3v11.1M704.2 208.5v10.9M704.8 208.6v11M705.4 208.1v11.5M706 207.9v11.2M706.6 207.5v11.1M707.2 207.2v11.5M707.8 206.8v11.7M708.4 207.4v11.6M709 207.5v10.9M709.6 208v10.6M710.2 208v10.8M710.8 208.2v10.3M711.4 207.9v10.6M712 207.4v11.3M712.6 206.9v11.9M713.2 207.4v11.8M713.8 207.4v11.6M714.4 207.7v11.3M715 207.6v11.7M715.6 207.9v10.9M716.2 208v10.8M716.8 207.8v10.7M717.4 207.5v11.4M718 207.6v11.1M718.6 207.9v10.9M719.2 208.3v10.2M719.8 208.5v10.2M720.4 208v10.8M721 208v10.3M721.6 207.9v10.8M722.2 207.7v10.5M722.8 208v10.5M723.4 208v10.4M724 207.8v10.9M724.6 208.3v10.7M725.2 208.4v10.2M725.8 208.1v10.7M726.4 208.1v10.6M727 208v10.6M727.6 208v10.3M728.2 207.6v11M728.8 207.5v10.9M729.4 207.3v11.4M730 207.8v10.9M730.6 207.6v11.1M731.2 207.8v10.9M731.8 207.9v10.8M732.4 208.1v10.5M733 208v10.8M733.6 208.3v10.9M734.2 208v11M734.8 208v10.8M735.4 207.7v10.8M736 207.7v10.9M736.6 207.6v11.5M737.2 207.7v11.5M737.8 208v10.9M738.4 208.1v10.9M739 207.3v11.4M739.6 207.7v11.1M740.2 206.9v12M740.8 207.4v11.7M741.4 207.3v11.7M742 207.3v11.9M742.6 207.7v11.1M743.2 207.7v11M743.8 207.6v11.2M744.4 207.3v11.4M745 207.2v11.4M745.6 207.5v11.8M746.2 207.5v11.5M746.8 208v11.6M747.4 207.4v11.9M748 207.4v12.1M748.6 207v12" stroke="#10f010" stroke-width="1.2" fill="none"/>
<path d="M38.2 182.4v13.1M38.8 182.9v12.5M39.4 182.6v12.8M40 183v12.4M40.6 183.3v12.1M41.2 183.1v12.3M41.8 183.3v11.9M42.4 183.3v12.1M43 183v12.3M43.6 183v12.2M44.2 183.1v12.1M44.8 182.9v12.3M45.4 183.2v12.1M46 182.3v13M46.6 182.2v12.9M47.2 183.4v12M47.8 182.7v12.8M48.4 182v13.5M49 181.3v14.2M49.6 181.8v13.4M50.2 181.7v13.4M50.8 181.9v13.2M51.4 182.4v12.9M52 182.9v12.3M52.6 183v12.3M53.2 182.3v12.9M53.8 183.1v12.3M54.4 182.6v12.7M55 183.2v11.9M55.6 182.7v12.5M56.2 182.9v12.5M56.8 183v12.2M57.4 183.3v11.9M58 182.4v12.7M58.6 182.4v12.6M59.2 183.1v12M59.8 183.2v12.2M60.4 183v12.5M61 183.9v11.4M61.6 183.7v11.6M62.2 183.6v11.7M62.8 183.7v11.7M63.4 183.6v11.6M64 183.3v11.8M64.6 183.7v11.5M65.2 183.6v11.8M65.8 183.4v12M66.4 183.3v12M67 184.1v11.2M67.6 183.6v11.8M68.2 183.6v11.7M68.8 182.7v12.3M69.4 182.9v12.1M70 183.3v11.8M70.6 183.2v12M71.2 184.4v10.7M71.8 183.4v11.7M72.4 183.3v11.7M73 183.5v11.6M73.6 183.5v11.7M74.2 183.2v11.8M74.8 183.1v12.2M75.4 183v12.3M76 184.2v11.1M76.6 184.1v11.2M77.2 183.8v11.7M77.8 183.7v11.8M78.4 183.2v12.1M79 183.1v12.3M79.6 183.8v11.5M80.2 182.7v12.5M80.8 182.6v12.6M81.4 182v13.1M82 182.7v12.4M82.6 182v13.2M83.2 182.6v12.8M83.8 182.7v12.6M84.4 183.4v12M85 183.4v11.9M85.6 183.7v11.4M86.2 184v11.1M86.8 184v11.1M87.4 184.3v10.8M88 183.9v11.3M88.6 183.3v11.8M89.2 182.8v12.5M89.8 183.5v11.8M90.4 182.9v12.2M91 184v11.1M91.6 183.9v11.4M92.2 183.9v11.4M92.8 183.7v12M93.4 184v11.7M94 183.2v12.3M94.6 182.8v12.9M95.2 182.9v12.6M95.8 183.5v11.9M96.4 183.7v11.6M97 184v11.2M97.6 184.1v11.1M98.2 184.3v11M98.8 183.9v11.4M99.4 183.9v11.3M100 183.3v11.8M100.6 183.6v11.4M101.2 184.2v11M101.8 184v11.2M102.4 183.6v11.5M103 182.6v12.6M103.6 182.6v12.9M104.2 183.5v11.9M104.8 183v12.2M105.4 183.3v12M106 183.2v11.9M106.6 183.1v12M107.2 181.8v13.3M107.8 182.1v13.1M108.4 181.8v13.1M109 181.7v13.4M109.6 181.8v13.2M110.2 181.2v13.9M110.8 181.9v13.2M111.4 181.9v13.1M112 183.5v11.6M112.6 182.9v12.3M113.2 183.4v12.1M113.8 183.2v12.1M114.4 182.5v12.9M115 183v12.4M115.6 182.7v12.9M116.2 184v11.4M116.8 183.1v12.2M117.4 183v12.1M118 183.5v11.6M118.6 183.3v11.7M119.2 183.6v11.7M119.8 183.3v12M120.4 183.3v11.8M121 184v11.4M121.6 184.1v11.3M122.2 184.3v10.9M122.8 184v11.3M123.4 183.4v12.1M124 183.8v11.6M124.6 183.6v12.1M125.2 184.4v11.2M125.8 183.9v11.7M126.4 183.4v12M127 183.9v11.4M127.6 183.7v11.5M128.2 183.8v11.4M128.8 183.4v11.7M129.4 183.6v11.6M130 183.3v12.2M130.6 182.8v12.7M131.2 183.2v12.2M131.8 183v12.4M132.4 183.2v12M133 182.3v13M133.6 182.3v12.8M134.2 183.5v11.6M134.8 183.3v12M135.4 183.2v11.8M136 182.9v12.3M136.6 182.1v12.8M137.2 183v12M137.8 182.7v12.2M138.4 183.4v11.5M139 183.7v11.4M139.6 183.6v11.6M140.2 183.4v11.8M140.8 183v12M141.4 182.3v12.8M142 182.8v12.3M142.6 182.4v12.7M143.2 182.8v12.3M143.8 182.9v12M144.4 182.6v12.5M145 183.5v11.4M145.6 181.9v13.1M146.2 181.9v13.4M146.8 181.3v14.4M147.4 182.4v13.1M148 182.9v12.5M148.6 182.5v12.8M149.2 183v12.1M149.8 183.7v11.2M150.4 183.7v11.4M151 183.6v11.4M151.6 183.4v11.7M152.2 184.3v10.9M152.8 184v11.1M153.4 184.2v10.9M154 183.9v11.3M154.6 183.9v11.4M155.2 182.7v12.5M155.8 182.9v12.6M156.4 183.3v12.1M157 183.4v11.9M157.6 183v12.2M158.2 183.5v11.7M158.8 183.1v12.1M159.4 181.8v13.5M160 182.8v12.8M160.6 183.4v11.9M161.2 183.2v12.1M161.8 183.9v11.3M162.4 183.3v11.8M163 182.8v12.2M163.6 182v12.9M164.2 181.9v13.2M164.8 182.2v12.8M165.4 182v13.3M166 182.7v12.8M166.6 183.1v12.5M167.2 182.5v13M167.8 182.5v13M168.4 183.3v12.2M169 183.1v12.2M169.6 183.4v11.8M170.2 183.3v11.7M170.8 182.7v12.4M171.4 183.1v11.9M172 183.1v12M172.6 184v11.1M173.2 183.3v11.8M173.8 183.5v11.6M174.4 183.2v11.7M175 183.9v10.9M175.6 183.1v12M176.2 183.6v11.3M176.8 183v12M177.4 183.1v12.2M178 182.9v12.3M178.6 183.6v11.6M179.2 183.3v11.8M179.8 183.3v11.9M180.4 182.5v12.7M181 183.1v12M181.6 183.6v11.6M182.2 183.6v11.8M182.8 182.8v12.3M183.4 181.7v13.6M184 182.3v12.8M184.6 182.6v12.7M185.2 183v12.2M185.8 182.8v12.2M186.4 183.2v11.7M187 183.3v11.6M187.6 183.2v11.9M188.2 183.1v11.8M188.8 182.2v13M189.4 182.5v12.6M190 181.9v13.5M190.6 182.3v13.1M191.2 182.9v12.5M191.8 183.4v11.9M192.4 183.1v12.1M193 183.5v11.7M193.6 184v11.3M194.2 183.4v11.7M194.8 183.1v12.3M195.4 182.7v12.5M196 183.3v12M196.6 182.1v13.3M197.2 181.6v13.6M197.8 181.4v13.8M198.4 181.3v13.8M199 181.9v13.1M199.6 182.2v12.8M200.2 181.7v13.4M200.8 183.1v11.9M201.4 181.7v13.5M202 181.5v13.7M202.6 181.5v13.6M203.2 181.5v13.6M203.8 182.2v12.8M204.4 182.6v12.4M205 182.3v12.5M205.6 182.9v11.9M206.2 183.2v11.6M206.8 182.2v12.5M207.4 181.4v13.3M208 182v12.8M208.6 182.2v12.6M209.2 182.7v12.1M209.8 182.6v12M210.4 182.8v11.6M211 183.2v11.2M211.6 182.7v11.7M212.2 183.2v11M212.8 182.9v11.2M213.4 182.5v11.7M214 183v11.3M214.6 182.7v11.5M215.2 183.1v11M215.8 183.1v11M216.4 182.4v11.9M217 182.5v11.6M217.6 182.5v11.6M218.2 183v11.3M218.8 183.3v10.9M219.4 182.9v11.3M220 182.9v11.5M220.6 182.7v11.6M221.2 182v12.3M221.8 183v11.2M222.4 181.8v12.4M223 181.9v12.5M223.6 182.1v12.4M224.2 181.8v12.7M224.8 182.6v12M225.4 182.3v12.2M226 181.8v13M226.6 180.7v14M227.2 180.1v14.5M227.8 180v14.4M228.4 181.2v13.1M229 180.9v13.3M229.6 181.4v13M230.2 182.8v11.4M230.8 182.2v12.1M231.4 181.7v12.4M232 182.3v12M232.6 181.5v12.8M233.2 181.2v13.4M233.8 182.1v12.4M234.4 182.2v12.3M235 181.9v12.5M235.6 182.3v12M236.2 182.2v12.3M236.8 181.9v12.8M237.4 181.9v12.6M238 181.6v12.8M238.6 181.4v13.2M239.2 181.3v13M239.8 181.4v13.1M240.4 181.7v12.7M241 182.2v12.3M241.6 182.5v12M242.2 183.7v11M242.8 183v11.9M243.4 183.3v11.5M244 182.7v12.1M244.6 182.4v12.3M245.2 183.4v11.4M245.8 183.6v11.4M246.4 183.7v11.4M247 183.3v11.6M247.6 183.8v11.3M248.2 183.8v11.4M248.8 184.4v11.1M249.4 184.3v11M250 184.4v11.2M250.6 184.8v10.7M251.2 184.8v10.8M251.8 184.9v10.7M252.4 184.8v11.1M253 184.9v10.9M253.6 184.9v11M254.2 184.4v11.7M254.8 183.8v12.3M255.4 184.4v11.5M256 183.7v12.4M256.6 184v12.1M257.2 185v11.4M257.8 185v11.4M258.4 185.9v10.6M259 186.5v10.1M259.6 186.8v10M260.2 186.8v10.5M260.8 186.8v10.4M261.4 186.8v10.5M262 186.4v11.1M262.6 187.2v10.3M263.2 187v10.6M263.8 187v10.9M264.4 187.3v10.8M265 186.5v11.6M265.6 186.3v11.9M266.2 186.9v11.3M266.8 186.8v11.2M267.4 187v11.3M268 187.8v10.4M268.6 187.4v10.8M269.2 187.2v11M269.8 187.6v10.9M270.4 188.1v10.5M271 188v10.8M271.6 188.3v10.4M272.2 188.7v10M272.8 189.2v9.8M273.4 189v10M274 189.5v9.6M274.6 189.7v9.6M275.2 190.2v9.3M275.8 190v9.7M276.4 190.4v9.5M277 190.2v9.8M277.6 190.3v9.6M278.2 190.5v9.3M278.8 190.9v9M279.4 190.8v9.3M280 190.8v9.6M280.6 190.9v10M281.2 191.2v9.7M281.8 191v10.1M282.4 191.3v10M283 191.2v10M283.6 190.9v10.1M284.2 191.1v10M284.8 191v10.2M285.4 190.7v10.9M286 190.8v10.7M286.6 191.4v10.6M287.2 191.8v10.2M287.8 192.1v10M288.4 192.1v10.3M289 192.5v9.8M289.6 193v9.4M290.2 192.9v9.5M290.8 192.9v9.8M291.4 192.9v10M292 193.2v9.8M292.6 193.5v9.5M293.2 193.5v9.6M293.8 193.7v9.8M294.4 194.1v9.2M295 194v9.8M295.6 194.5v9.4M296.2 194v10M296.8 194.1v10M297.4 193.9v10.2M298 194.3v9.8M298.6 194.2v10M299.2 194.9v9.6M299.8 195.4v9.3M300.4 195.2v9.6M301 195.8v9.5M301.6 195.3v10M302.2 195.4v10M302.8 195.2v10.4M303.4 195.2v10.2M304 195.4v10M304.6 195.6v10M305.2 195.9v9.6M305.8 195.9v9.6M306.4 195.9v9.8M307 196v9.6M307.6 195.8v10M308.2 196.1v9.8M308.8 196.1v10.1M309.4 196.4v10M310 196.6v9.8M310.6 196.4v10.1M311.2 196.3v10.1M311.8 196v10.4M312.4 196.3v10.4M313 196.9v9.9M313.6 196.7v10.1M314.2 197v9.9M314.8 197.3v9.5M315.4 198v9.1M316 198.2v8.9M316.6 198.2v9.2M317.2 198.3v9.1M317.8 198.1v9.3M318.4 198.1v9.5M319 197.9v9.9M319.6 198.3v9.6M320.2 198.4v9.6M320.8 198.1v9.9M321.4 198.5v9.6M322 198.3v9.8M322.6 199v9.2M323.2 199v9.6M323.8 199.3v9.3M324.4 199.6v9.1M325 199.3v9.7M325.6 199.5v9.6M326.2 199.6v9.5M326.8 200.2v9.2M327.4 200v9.3M328 200.1v9.3M328.6 200.7v8.9M329.2 200.4v9.5M329.8 200.3v10M330.4 200.9v9.7M331 200.8v9.8M331.6 201.4v9.3M332.2 201.3v9.5M332.8 201.8v9.1M333.4 201.7v9.2M334 201.2v9.9M334.6 201.3v10.1M335.2 201.2v10.3M335.8 201.6v10.2M336.4 202v9.9M337 202.6v9.5M337.6 202.6v9.4M338.2 202.5v9.5M338.8 202.5v9.8M339.4 202.3v10M340 202.4v10.2M340.6 203v10.1M341.2 203v10.3M341.8 203.4v9.9M342.4 203.3v10.4M343 203.3v10.3M343.6 203.5v10.4M344.2 203.8v9.9M344.8 204.2v9.7M345.4 204.7v9.4M346 204.9v9.2M346.6 204.6v9.6M347.2 205v9.4M347.8 205.5v9.1M348.4 205.5v9.2M349 205.9v9.2M349.6 206v9M350.2 206.1v9.2M350.8 206.1v9.4M351.4 205.9v9.8M352 206.5v9.3M352.6 206.2v9.9M353.2 206.8v9.7M353.8 206.9v9.9M354.4 207.1v9.9M355 207.1v10.1M355.6 207v10.3M356.2 207.5v9.6M356.8 207.6v9.8M357.4 207.9v9.6M358 207.8v9.6M358.6 208.5v9M359.2 208.2v9.4M359.8 208.5v9.2M360.4 208.6v9.4M361 208.6v9.4M361.6 208.7v9.5M362.2 208.8v9.4M362.8 209.4v9M363.4 209.2v9.2M364 209.4v9.2M364.6 209.3v9.4M365.2 209.2v9.6M365.8 209.4v9.3M366.4 209.5v9.6M367 209.5v9.8M367.6 209.3v9.9M368.2 209.6v10M368.8 209.5v10.3M369.4 209.7v10.3M370 209.5v10.7M370.6 209.8v10.3M371.2 209.7v10.6M371.8 210.2v10.1M372.4 210.2v10.3M373 210.6v9.6M373.6 211.1v9.4M374.2 211.4v9.2M374.8 211.2v9.4M375.4 211.4v9.4M376 211.1v9.6M376.6 211.1v9.8M377.2 211.3v9.7M377.8 211.5v9.8M378.4 211.6v9.9M379 211.7v9.9M379.6 211.2v10.6M380.2 211.3v10.6M380.8 211.4v10.6M381.4 211.4v10.7M382 211.7v10.6M382.6 212.1v10.3M383.2 212.3v10.2M383.8 212.3v10.2M384.4 212.8v10M385 212.8v10M385.6 213.2v9.8M386.2 213v10M386.8 212.9v10.2M387.4 213v10M388 213.3v9.8M388.6 213.1v9.9M389.2 213.4v9.8M389.8 213.4v9.9M390.4 213.4v10.1M391 213.2v10.2M391.6 213.1v10.6M392.2 213.5v10.1M392.8 213.3v10.3M393.4 213.9v9.8M394 213.6v10M394.6 214.4v9.1M395.2 214.4v9.3M395.8 214v10M396.4 214.3v9.8M397 213.9v10.4M397.6 214.4v9.8M398.2 214.4v9.7M398.8 214.6v9.5M399.4 214.5v9.5M400 214.2v9.6M400.6 213.9v10.2M401.2 214v10.2M401.8 214v10.2M402.4 213.8v10.6M403 214.1v10.4M403.6 214.2v10.4M404.2 214.6v9.9M404.8 214.7v10.1M405.4 214.6v9.9M406 214.6v9.9M406.6 214.9v9.5M407.2 215v9.5M407.8 214.2v10.1M408.4 214.1v10.3M409 213.8v10.3M409.6 214.1v9.8M410.2 213.8v9.8M410.8 214.3v9.2M411.4 214v9.7M412 213.9v9.7M412.6 213.8v9.8M413.2 213.8v9.6M413.8 213.2v9.9M414.4 213.4v9.5M415 213v10.1M415.6 213.5v9.7M416.2 213.9v9.6M416.8 214.1v9.2M417.4 214.4v9.2M418 214.3v9.4M418.6 214.1v9.8M419.2 214.2v9.6M419.8 213.6v10.5M420.4 214.1v10.1M421 214.2v10.3M421.6 213.9v10.8M422.2 214.3v10.7M422.8 214.7v10.3M423.4 215.4v9.9M424 215.1v10.2M424.6 215.4v10M425.2 215.2v10.2M425.8 216.1v9.7M426.4 216.4v9.5M427 216.6v9.7M427.6 216v10.1M428.2 216v9.8M428.8 215.2v10.4M429.4 215.3v10.1M430 214.8v10.1M430.6 215v9.8M431.2 214.8v9.9M431.8 214.7v10.1M432.4 215v9.6M433 214.9v9.5M433.6 214.8v9.4M434.2 214.5v9.7M434.8 213.9v10M435.4 213.4v10.2M436 213.5v10.2M436.6 213.3v10.1M437.2 212.7v10.5M437.8 213v9.9M438.4 212.8v9.8M439 212.6v9.6M439.6 212.2v9.9M440.2 211.4v10.5M440.8 211.2v10.7M441.4 211.3v10.5M442 211.3v10.2M442.6 211.8v9.8M443.2 211.7v9.5M443.8 211v10.2M444.4 210.7v10.3M445 210.4v10.3M445.6 210.1v10.7M446.2 210v10.6M446.8 209.9v10.5M447.4 209.9v10.2M448 209.8v10M448.6 209.8v9.9M449.2 209.9v9.9M449.8 209.6v9.9M450.4 209v10.5M451 209.1v10.1M451.6 208.9v10.5M452.2 208.8v10.7M452.8 208.7v10.6M453.4 209v10.2M454 209.2v9.7M454.6 208.8v10.1M455.2 208.1v10.9M455.8 208.1v10.8M456.4 208.9v10.1M457 208.8v9.9M457.6 208.7v10.1M458.2 208.1v10.7M458.8 207.8v10.5M459.4 207.5v10.9M460 207.6v10.5M460.6 208v9.9M461.2 207.9v9.8M461.8 208.7v9.3M462.4 208.3v9.6M463 208.3v9.8M463.6 208.3v10.1M464.2 208.1v10.2M464.8 207.9v10.6M465.4 208.2v10.3M466 208.7v10M466.6 208.5v10M467.2 209.2v9.7M467.8 209.1v9.7M468.4 209.4v9.8M469 209.8v9.3M469.6 209.6v9.6M470.2 209.8v9.2M470.8 209.8v9.1M471.4 209.3v9.3M472 208.9v9.5M472.6 209.1v9M473.2 208.8v9.3M473.8 208.2v9.7M474.4 207.9v9.6M475 208.1v9.2M475.6 207.3v9.8M476.2 206.9v9.7M476.8 206.3v10M477.4 205.6v10.4M478 205v10.5M478.6 205.1v10.2M479.2 204.7v10.2M479.8 204.4v10.2M480.4 204.4v9.8M481 204.3v9.6M481.6 203.9v9.5M482.2 203.3v9.7M482.8 202.5v10.2M483.4 202v10.6M484 202.2v10.3M484.6 202v10.2M485.2 202.1v9.7M485.8 201.7v9.9M486.4 201.8v9.4M487 201v9.7M487.6 200.7v9.5M488.2 200.4v9.5M488.8 200.2v9.5M489.4 200v9.5M490 199.6v9.7M490.6 200v9.4M491.2 200v9.5M491.8 200v9.5M492.4 200.2v9.6M493 199.9v9.7M493.6 200.2v9.5M494.2 200.2v9.8M494.8 199.9v10M495.4 200.1v10M496 200.7v9.5M496.6 200.6v9.7M497.2 200.8v9.4M497.8 200.9v9.4M498.4 201.1v9.5M499 201v9.7M499.6 201.4v9.5M500.2 201.5v9.8M500.8 201.1v10.1M501.4 201.2v10M502 200.8v10.2M502.6 200.9v10.1M503.2 201.1v10.1M503.8 200.6v10.6M504.4 200.5v10.9M505 200.8v10.5M505.6 200.9v10.5M506.2 200.8v10.6M506.8 201.5v9.8M507.4 201.3v10.3M508 201.5v9.9M508.6 202v9.6M509.2 201.8v10M509.8 202.2v9.4M510.4 201.9v9.7M511 202.3v8.8M511.6 201.8v9.5M512.2 202.2v9M512.8 201.9v9.1M513.4 201.6v9.2M514 201.3v9.4M514.6 200.9v10M515.2 200.5v10.3M515.8 200.2v10.2M516.4 200.7v9.5M517 200.7v9.5M517.6 201v9.1M518.2 200.8v9.2M518.8 200.9v9M519.4 200.7v9.3M520 200.4v9.6M520.6 200.3v9.5M521.2 199.8v10M521.8 199.7v10M522.4 199.4v10.1M523 199.7v9.6M523.6 199.8v9.2M524.2 199.8v9.1M524.8 199.3v9.6M525.4 199.5v9.1M526 199.2v9.2M526.6 198.8v9.4M527.2 198.2v9.9M527.8 197.7v10.3M528.4 197.3v10.1M529 196.7v10.7M529.6 196.8v10.2M530.2 197v9.8M530.8 197v9.7M531.4 196.8v9.5M532 196.5v9.7M532.6 196.6v9.5M533.2 196.1v9.6M533.8 195.7v10.1M534.4 195.1v10.4M535 194.7v10.6M535.6 194.3v10.8M536.2 194.2v10.7M536.8 194.4v10.5M537.4 194.1v10.4M538 194.1v10.3M538.6 194.5v9.5M539.2 194.4v9.5M539.8 193.6v10.1M540.4 193.3v9.9M541 193.4v9.9M541.6 193.3v9.9M542.2 193.6v9.6M542.8 193.3v9.7M543.4 193.1v9.7M544 192.6v10M544.6 192.5v10.1M545.2 192v10.5M545.8 191.5v10.7M546.4 191.4v10.6M547 191.5v10.3M547.6 191.6v10M548.2 191.2v10.4M548.8 191.5v10.3M549.4 191.5v10M550 190.9v10.5M550.6 191.2v10M551.2 190.6v10.2M551.8 191v9.6M552.4 190.6v9.9M553 190.6v9.6M553.6 190.1v10.2M554.2 189.7v10.5M554.8 189.7v10.4M555.4 190.1v10.2M556 190.5v9.7M556.6 190.1v10.1M557.2 190.2v9.8M557.8 189.7v10.1M558.4 189.9v9.4M559 189.8v9.2M559.6 189.6v9.3M560.2 189.1v9.7M560.8 189.1v9.6M561.4 188.4v10.3M562 188.2v10.6M562.6 187.9v10.8M563.2 187.4v11.3M563.8 187.5v11.1M564.4 187.5v10.8M565 187.8v10.6M565.6 188.2v10.2M566.2 188.1v10.5M566.8 187.9v10.5M567.4 187.5v11M568 187.4v10.7M568.6 187.5v10.5M569.2 186.6v11.2M569.8 186.5v11.2M570.4 186.6v11.2M571 187.2v10.4M571.6 186.8v11.1M572.2 186.4v11.2M572.8 186.4v11.2M573.4 186.2v11.4M574 186.4v11.2M574.6 186.4v11.1M575.2 186.8v10.6M575.8 186.6v10.6M576.4 186.4v10.7M577 186.2v10.9M577.6 186.4v10.7M578.2 185.2v12.1M578.8 185.3v12M579.4 184.8v12.3M580 185v12.3M580.6 185.3v11.7M581.2 186.1v10.9M581.8 185.3v11.3M582.4 185.6v10.9M583 184.6v11.8M583.6 183.2v12.8M584.2 182.8v13.3M584.8 182.9v13M585.4 183.8v12.2M586 184.2v11.7M586.6 185v11.1M587.2 184.6v11.6M587.8 183.7v12.6M588.4 183.4v12.9M589 182.6v14M589.6 183.1v13.4M590.2 182.4v13.9M590.8 182.7v13.8M591.4 183.5v13M592 183.8v12.7M592.6 183.8v12.9M593.2 183.2v13.3M593.8 183.5v12.9M594.4 183.9v12.5M595 183.2v13M595.6 183.4v12.6M596.2 183.3v12.8M596.8 184v12.1M597.4 183.3v12.8M598 183.1v13M598.6 182.8v13.5M599.2 181.8v14.4M599.8 183.1v13.2M600.4 182.7v13.5M601 184v12.2M601.6 184.7v11.5M602.2 184.3v11.8M602.8 184.7v11.4M603.4 185.2v10.9M604 185.2v10.9M604.6 184.6v11.9M605.2 183.6v12.9M605.8 183.6v12.9M606.4 182.8v13.7M607 183.2v13.4M607.6 183.6v13.1M608.2 185.1v11.9M608.8 185.6v11.3M609.4 185.1v12.1M610 185.1v12.4M610.6 185.1v12.3M611.2 183.7v13.7M611.8 183.5v13.7M612.4 183.7v13.6M613 183.5v13.9M613.6 183.6v14M614.2 184.4v13.1M614.8 185.6v11.8M615.4 184.7v12.8M616 184.1v13.5M616.6 184.7v12.6M617.2 184.4v12.8M617.8 184.3v12.9M618.4 183.8v13.5M619 183.5v13.7M619.6 183.9v13.3M620.2 184.2v13M620.8 184.9v12.2M621.4 185.3v11.9M622 185.6v11.6M622.6 184.6v12.4M623.2 184.7v12.1M623.8 184.7v12M624.4 183.7v13.1M625 184.2v12.9M625.6 183.8v13.2M626.2 184.8v12.1M626.8 184.8v12.3M627.4 184.8v12M628 185.2v11.7M628.6 185.4v11.4M629.2 185.1v11.5M629.8 185.2v11.4M630.4 185.5v11.1M631 184.9v11.9M631.6 184.5v12.2M632.2 184.9v11.9M632.8 183v13.6M633.4 183.5v13.1M634 183v13.8M634.6 183.7v13.1M635.2 184.4v12.4M635.8 184.7v12M636.4 184.7v12.3M637 183.6v13M637.6 183.4v13.4M638.2 183.6v13M638.8 184.4v12.3M639.4 184.4v12.4M640 184.2v12.6M640.6 184.5v12.5M641.2 184.8v12.2M641.8 184.1v13M642.4 184.2v12.9M643 184.9v12.1M643.6 184.5v12.4M644.2 184.7v11.9M644.8 184.7v11.9M645.4 184.7v12M646 184.7v12.2M646.6 184.7v12.3M647.2 183.8v13.1M647.8 183.1v13.6M648.4 182.6v13.7M649 182.2v14.3M649.6 182.1v14.1M650.2 182.6v13.8M650.8 183.1v13.3M651.4 184.6v11.8M652 183.2v13.3M652.6 183.3v13.1M653.2 182.9v13.4M653.8 183.4v12.8M654.4 183.3v12.9M655 183.5v12.9M655.6 184.7v11.5M656.2 184.5v11.5M656.8 184.5v11.9M657.4 185.2v11M658 184.5v11.7M658.6 185.5v10.9M659.2 185.5v10.8M659.8 184.7v11.7M660.4 185.5v11M661 184.7v11.7M661.6 184.5v11.6M662.2 184.3v12M662.8 185v11.2M663.4 184.7v11.5M664 184.3v11.7M664.6 184.3v11.7M665.2 184.3v12.1M665.8 184.1v12.2M666.4 185.3v11M667 183.9v12.5M667.6 183.5v12.9M668.2 184v12.3M668.8 183.1v13.1M669.4 182.9v13.3M670 183.9v12.2M670.6 184.7v11.7M671.2 185.4v11M671.8 185.4v10.9M672.4 185.4v11M673 184.8v11.8M673.6 185.2v11.1M674.2 184.6v11.6M674.8 185.4v10.9M675.4 184.6v11.7M676 184.6v11.7M676.6 184.5v12M677.2 184.9v11.7M677.8 185.3v11.3M678.4 185.5v10.9M679 185.2v11.4M679.6 185.4v10.9M680.2 185.1v11.1M680.8 184.2v12.1M681.4 185.1v11.1M682 183.9v12.3M682.6 184.4v11.6M683.2 183.8v12.3M683.8 184.4v11.8M684.4 184.4v11.7M685 184.7v11.5M685.6 184v12M686.2 184.1v12.1M686.8 184.7v11.4M687.4 184.3v11.8M688 183.4v12.9M688.6 184v12.5M689.2 182.3v14M689.8 181.9v14.3M690.4 182.2v14M691 182v14.1M691.6 182.4v13.7M692.2 182.9v13.4M692.8 183v13.2M693.4 182.6v13.4M694 182.1v14.1M694.6 182.6v13.6M695.2 183.2v12.8M695.8 183.3v12.9M696.4 183.4v12.7M697 184.4v11.7M697.6 184v12.1M698.2 185.1v11.1M698.8 183.9v12.3M699.4 184.2v12M700 184.1v12.4M700.6 184v12.3M701.2 184.4v11.9M701.8 184.6v11.6M702.4 184.3v12M703 184.7v11.6M703.6 183.3v13.2M704.2 183.5v13.1M704.8 184.2v12.4M705.4 184.2v12.2M706 184.4v11.9M706.6 185v11.1M707.2 185.3v10.9M707.8 184.1v12M708.4 184.6v11.4M709 185.3v10.8M709.6 184.4v11.6M710.2 184.5v11.6M710.8 184v12.2M711.4 184.3v12M712 183.9v12.2M712.6 183.5v12.7M713.2 183.6v12.5M713.8 183.7v12.5M714.4 184.3v12M715 183.9v12.4M715.6 184.3v12M716.2 183.8v12.4M716.8 183.7v12.6M717.4 182.9v13.4M718 183.5v12.9M718.6 183.9v12.4M719.2 183.9v12.6M719.8 184.1v12.1M720.4 184.7v11.6M721 184.4v11.8M721.6 184.7v11.5M722.2 185v11.2M722.8 184.7v11.5M723.4 185.1v10.9M724 184.8v11.3M724.6 185.4v10.6M725.2 184.9v11.2M725.8 184.8v11.3M726.4 183.8v12.5M727 184.4v11.7M727.6 183.2v13.2M728.2 183.2v12.9M728.8 183.2v12.9M729.4 182.7v13.6M730 182.8v13.3M730.6 183.6v12.5M731.2 183.8v12.4M731.8 183.7v12.5M732.4 184.1v11.9M733 184.3v11.6M733.6 183.7v12.4M734.2 183v13.3M734.8 182.9v13.3M735.4 183v13.1M736 183.7v12.7M736.6 184.3v12.1M737.2 184.7v11.6M737.8 183.2v13M738.4 183.3v13M739 182.1v14.4M739.6 183.3v12.8M740.2 183.4v13.2M740.8 184.5v12.1M741.4 184.4v12.1M742 184.1v12.2M742.6 184v12.3M743.2 184.5v11.6M743.8 185.1v10.9M744.4 184.9v11.3M745 184v12M745.6 183.8v12.2M746.2 183.4v12.8M746.8 182.7v13.5M747.4 181.7v14.4M748 182.8v13.2M748.6 183v12.9" stroke="#f010f0" stroke-width="1.2" fill="none"/>
<!-- record bar -->
<rect x="133.5" y="20.4" width="521" height="12.6" rx="1.5" fill="#fff" stroke="#8e8e8e" stroke-width="2"/>
<path d="M133 33H655" stroke="#111" stroke-width="1.8"/>
<path d="M239 26.7H550" stroke="#d38ad6" stroke-width="2"/>
<path d="M238.5 21V33M551 21V33" stroke="#111" stroke-width="2"/>
<path d="M389.6 22.5Q389.6 20.5 391.6 20.5H396.2Q398.2 20.5 398.2 22.5V31.5L394 38.5L389.6 31.5Z" fill="#f0a010"/>
<path d="M391.5 23H396.5M394 23V31" stroke="#ffd880" stroke-width="1.8"/>
<path d="M764 21H777" stroke="#888" stroke-width="2"/>
<!-- Tek Stop -->
<g font-family="Liberation Serif, serif" font-weight="bold" font-size="17" fill="#111"><text transform="translate(17.9 32) scale(0.86 1)">T</text><text transform="translate(25.6 32.4) scale(1.12 1)" font-size="17.5">e</text><text transform="translate(35.6 32.2) scale(1.32 1)" font-size="16.2">k</text></g>
<text class="s" x="50" y="30.5" font-size="12" fill="#7a7a7a" textLength="27" lengthAdjust="spacingAndGlyphs">Stop</text>
<!-- channel markers -->
<path d="M18.8 191.8H30.5L36.6 197.4L30.5 203H18.8Z" fill="#8c8c6c" stroke="#2424e0" stroke-width="2.2" stroke-linejoin="round"/>
<path d="M25.6 192.5V202.5" stroke="#2424e0" stroke-width="2.4"/>
<path d="M18.2 232H30.5L36.6 238.4L30.5 244.8H18.2Z" fill="#cf78cf"/><text class="s" x="23" y="242.6" font-size="10" font-weight="bold" fill="#e2a6e2">3</text>
<path d="M18.6 313H30L35.8 319L30 325H18.6Z" fill="#62a262"/><text class="s" x="23" y="323.2" font-size="10" font-weight="bold" fill="#9cc89c">4</text>
<!-- annotations -->
<text class="a" x="274.2" y="57" font-size="23" fill="#111" textLength="27" lengthAdjust="spacingAndGlyphs">T0</text>
<text class="a" x="467.3" y="66" font-size="23" fill="#111" textLength="27" lengthAdjust="spacingAndGlyphs">T1</text>
<text class="a" x="81.3" y="114.2" font-size="24" fill="#111">V</text>
<text class="a" x="95" y="118" font-size="14" fill="#111" textLength="15" lengthAdjust="spacingAndGlyphs">IN</text>
<text class="a" x="75.2" y="171.7" font-size="24" fill="#111">I</text>
<text class="a" x="81" y="174.7" font-size="13.5" fill="#111" textLength="15" lengthAdjust="spacingAndGlyphs">IN</text>
<text class="a" x="73.2" y="257.7" font-size="24" fill="#111">I</text>
<text class="a" x="79.7" y="262" font-size="14" fill="#111" textLength="37.5" lengthAdjust="spacingAndGlyphs">LOAD</text>
<!-- status boxes -->
<rect x="37.8" y="361" width="304.2" height="31" rx="5" fill="#fff" stroke="#8a8a8a" stroke-width="1.6"/>
<rect x="345.3" y="361" width="321.3" height="46" rx="5" fill="#fff" stroke="#8a8a8a" stroke-width="1.6"/>
<rect x="669.8" y="361.1" width="105" height="30.7" rx="5" fill="#fff" stroke="#8a8a8a" stroke-width="1.6"/>
<rect x="42.5" y="364.4" width="23.3" height="11.3" rx="5.6" fill="#0a0ae8"/>
<rect x="42.5" y="378.8" width="23.3" height="12" rx="6" fill="#a010a0"/>
<rect x="194.6" y="378.8" width="23.2" height="12" rx="6" fill="#0aa80a"/>
<rect x="584" y="364.2" width="24" height="12" rx="6" fill="#0aa80a"/>
<g class="s" font-weight="bold" font-size="10" fill="#fff" text-anchor="middle">
<text x="54.2" y="374">1</text><text x="54.2" y="388.7">3</text><text x="206.2" y="388.7">4</text><text x="596" y="374.2">4</text>
</g>
<g class="s" font-size="12">
<text x="81" y="374.4" fill="#7474ee" textLength="40" lengthAdjust="spacingAndGlyphs">2.00 V</text>
<text x="81" y="389" fill="#c24ec2" textLength="42" lengthAdjust="spacingAndGlyphs">200mA</text>
<text x="232.6" y="389.3" fill="#48c448" textLength="42" lengthAdjust="spacingAndGlyphs">200mA</text>
<text x="349.3" y="374.3" fill="#5a5a5a" textLength="37" lengthAdjust="spacingAndGlyphs">4.00 s</text>
<text x="477.4" y="374.3" fill="#555" textLength="50" lengthAdjust="spacingAndGlyphs">250kS/s</text>
<text x="477.4" y="388.6" fill="#555" textLength="66" lengthAdjust="spacingAndGlyphs">10M points</text>
<text x="506.4" y="402.6" fill="#555" textLength="156" lengthAdjust="spacingAndGlyphs">Trigger Frequency: &lt; 10 Hz</text>
<text x="575.8" y="389" fill="#555" textLength="54" lengthAdjust="spacingAndGlyphs">-60.0mA</text>
<text x="700" y="374.4" fill="#444" textLength="70.5" lengthAdjust="spacingAndGlyphs" xml:space="preserve">4 Mar  2020</text>
<text x="694" y="388.8" fill="#444" textLength="54" lengthAdjust="spacingAndGlyphs">14:31:13</text>
</g>
<g class="s" font-size="8" font-weight="bold">
<text x="153.5" y="371" fill="#6c6cf0">B</text><text x="156.8" y="374.3" fill="#6c6cf0">W</text>
<text x="153.5" y="385.5" fill="#c04cc0">B</text><text x="156.8" y="388.8" fill="#c04cc0">W</text>
<text x="142" y="388.6" fill="#c04cc0" font-size="11">Ω</text>
<text x="305" y="385.5" fill="#48c448">B</text><text x="308.3" y="388.8" fill="#48c448">W</text>
<text x="294.4" y="388.6" fill="#48c448" font-size="11">Ω</text>
</g>
<path d="M617.5 365H619.8L625.8 373.4H628" stroke="#777" stroke-width="1.7" fill="none"/>
<!-- bottom caption -->
<text class="a" x="244" y="434" font-size="19.6" fill="#1a1a1a" stroke="#1a1a1a" stroke-width="0.25" textLength="202.5" lengthAdjust="spacingAndGlyphs">MDO3014 - 15:50:31</text>
<text class="a" x="465" y="434" font-size="19.6" fill="#1a1a1a" stroke="#1a1a1a" stroke-width="0.25" textLength="85" lengthAdjust="spacingAndGlyphs">2020/3/4</text>
<!-- dashed cursors -->
<path d="M249 22.3V402" stroke="#111" stroke-width="1.8" stroke-dasharray="13.3 6.2"/>
<path d="M461 42.7V420" stroke="#111" stroke-width="1.8" stroke-dasharray="13 6.3"/>

</svg></body></html>
